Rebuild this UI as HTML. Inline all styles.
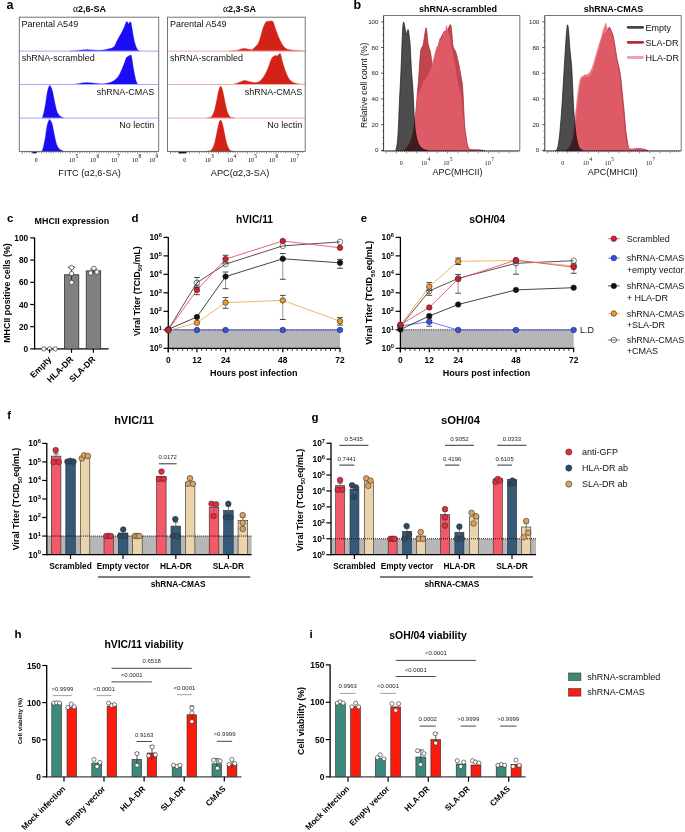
<!DOCTYPE html><html><head><meta charset="utf-8"><style>html,body{margin:0;padding:0;background:#fff}svg{display:block}</style></head><body>
<svg width="685" height="832" viewBox="0 0 685 832">
<rect x="0" y="0" width="685" height="832" fill="#fff"/>
<text x="6.6" y="9.2" font-size="12.5" font-weight="bold" text-anchor="start" fill="#000" font-family='"Liberation Sans", sans-serif'>a</text>
<rect x="32.5" y="151.6" width="4.2" height="1.7" fill="#111" stroke="none" stroke-width="1"/>
<rect x="178.6" y="151.6" width="7.8" height="1.8" fill="#111" stroke="none" stroke-width="1"/>
<path d="M70,51.1 L70,51.1 L70.82,51.05 L71.97,50.99 L73.31,50.91 L74.7,50.81 L76,50.7 L77.21,50.56 L78.42,50.38 L79.64,50.2 L80.83,50.03 L82,49.9 L83.13,49.8 L84.24,49.71 L85.32,49.65 L86.41,49.61 L87.5,49.6 L88.61,49.64 L89.72,49.71 L90.84,49.81 L91.93,49.92 L93,50 L94.05,50.07 L95.08,50.15 L96.1,50.22 L97.07,50.27 L98,50.3 L98.87,50.3 L99.68,50.28 L100.46,50.23 L101.23,50.17 L102,50.1 L102.75,50.02 L103.46,49.92 L104.17,49.81 L104.94,49.67 L105.8,49.5 L106.81,49.29 L107.95,49.06 L109.12,48.8 L110.24,48.51 L111.2,48.2 L112,47.9 L112.69,47.62 L113.3,47.29 L113.86,46.87 L114.4,46.3 L114.9,45.54 L115.33,44.64 L115.73,43.64 L116.14,42.6 L116.6,41.6 L117.11,40.62 L117.64,39.62 L118.2,38.61 L118.75,37.6 L119.3,36.6 L119.85,35.62 L120.4,34.64 L120.95,33.66 L121.49,32.68 L122,31.7 L122.49,30.7 L122.97,29.68 L123.44,28.67 L123.88,27.67 L124.3,26.7 L124.7,25.7 L125.08,24.67 L125.44,23.68 L125.78,22.83 L126.1,22.2 L126.4,21.82 L126.67,21.62 L126.92,21.58 L127.16,21.65 L127.4,21.8 L127.63,22.14 L127.85,22.69 L128.06,23.3 L128.28,23.79 L128.5,24 L128.73,23.83 L128.97,23.37 L129.21,22.81 L129.45,22.29 L129.7,22 L129.96,21.89 L130.22,21.84 L130.49,21.92 L130.75,22.19 L131,22.7 L131.23,23.51 L131.45,24.59 L131.66,25.83 L131.88,27.17 L132.1,28.5 L132.33,29.86 L132.57,31.32 L132.81,32.82 L133.05,34.3 L133.3,35.7 L133.55,37.03 L133.79,38.33 L134.04,39.59 L134.31,40.81 L134.6,42 L134.93,43.18 L135.28,44.34 L135.66,45.46 L136.03,46.49 L136.4,47.4 L136.76,48.17 L137.12,48.84 L137.48,49.41 L137.84,49.89 L138.2,50.3 L138.59,50.61 L139.01,50.81 L139.41,50.94 L139.76,51.02 L140,51.1 L140,51.1 Z" fill="#1a0cf5" stroke="#1a0cf5" stroke-width="0.3" stroke-linejoin="round"/>
<path d="M70,84.5 L70,84.5 L70.82,84.44 L71.97,84.36 L73.31,84.26 L74.7,84.14 L76,84 L77.21,83.82 L78.42,83.61 L79.64,83.38 L80.83,83.17 L82,83 L83.13,82.87 L84.24,82.75 L85.32,82.67 L86.41,82.61 L87.5,82.6 L88.61,82.64 L89.72,82.74 L90.84,82.86 L91.93,82.99 L93,83.1 L94.05,83.2 L95.08,83.31 L96.1,83.42 L97.07,83.52 L98,83.6 L98.87,83.67 L99.68,83.73 L100.46,83.77 L101.23,83.8 L102,83.8 L102.75,83.79 L103.46,83.77 L104.17,83.72 L104.94,83.64 L105.8,83.5 L106.81,83.3 L107.93,83.06 L109.09,82.77 L110.21,82.45 L111.2,82.1 L112.04,81.73 L112.77,81.34 L113.45,80.92 L114.11,80.44 L114.8,79.9 L115.53,79.3 L116.28,78.65 L117.02,77.94 L117.74,77.16 L118.4,76.3 L119,75.35 L119.54,74.32 L120.06,73.22 L120.57,72.07 L121.1,70.9 L121.65,69.68 L122.2,68.41 L122.75,67.1 L123.29,65.79 L123.8,64.5 L124.29,63.16 L124.77,61.76 L125.24,60.39 L125.68,59.17 L126.1,58.2 L126.49,57.54 L126.86,57.11 L127.2,56.84 L127.55,56.63 L127.9,56.4 L128.27,56.15 L128.64,55.95 L129.02,55.78 L129.37,55.63 L129.7,55.5 L130,55.33 L130.28,55.14 L130.53,54.98 L130.77,54.95 L131,55.1 L131.2,55.4 L131.36,55.8 L131.52,56.36 L131.69,57.14 L131.9,58.2 L132.15,59.67 L132.43,61.5 L132.72,63.51 L133.02,65.51 L133.3,67.3 L133.56,68.86 L133.8,70.32 L134.05,71.71 L134.31,73.09 L134.6,74.5 L134.93,76.01 L135.28,77.6 L135.66,79.14 L136.03,80.55 L136.4,81.7 L136.76,82.57 L137.12,83.23 L137.48,83.72 L137.84,84.1 L138.2,84.4 L138.59,84.59 L139.01,84.63 L139.41,84.59 L139.76,84.53 L140,84.5 L140,84.5 Z" fill="#1a0cf5" stroke="#1a0cf5" stroke-width="0.3" stroke-linejoin="round"/>
<path d="M42.1,118.1 L42.1,118.1 L42.27,117.64 L42.5,117.03 L42.77,116.25 L43.08,115.28 L43.4,114.1 L43.74,112.68 L44.11,111.05 L44.5,109.23 L44.9,107.24 L45.3,105.1 L45.69,102.65 L46.09,99.86 L46.5,97 L46.9,94.33 L47.3,92.1 L47.71,90.32 L48.14,88.82 L48.56,87.59 L48.95,86.62 L49.3,85.9 L49.58,85.45 L49.8,85.29 L50,85.37 L50.22,85.65 L50.5,86.1 L50.85,86.71 L51.24,87.51 L51.66,88.51 L52.09,89.7 L52.5,91.1 L52.89,92.78 L53.28,94.74 L53.67,96.86 L54.07,99.02 L54.5,101.1 L54.94,103.18 L55.4,105.35 L55.88,107.47 L56.38,109.43 L56.9,111.1 L57.45,112.44 L58.01,113.53 L58.6,114.43 L59.23,115.2 L59.9,115.9 L60.7,116.51 L61.62,117 L62.54,117.38 L63.34,117.67 L63.9,117.9 L63.9,118.1 Z" fill="#1a0cf5" stroke="#1a0cf5" stroke-width="0.3" stroke-linejoin="round"/>
<path d="M41.9,151.4 L41.9,151.4 L42.07,150.94 L42.3,150.33 L42.57,149.55 L42.88,148.58 L43.2,147.4 L43.54,145.98 L43.91,144.35 L44.3,142.53 L44.7,140.54 L45.1,138.4 L45.49,135.93 L45.89,133.12 L46.3,130.24 L46.7,127.58 L47.1,125.4 L47.51,123.74 L47.94,122.42 L48.36,121.39 L48.75,120.6 L49.1,120 L49.38,119.62 L49.6,119.48 L49.8,119.56 L50.02,119.81 L50.3,120.2 L50.65,120.69 L51.04,121.31 L51.46,122.11 L51.89,123.12 L52.3,124.4 L52.69,126.03 L53.08,127.98 L53.47,130.12 L53.87,132.31 L54.3,134.4 L54.74,136.48 L55.2,138.65 L55.68,140.77 L56.18,142.73 L56.7,144.4 L57.25,145.74 L57.81,146.83 L58.4,147.73 L59.03,148.5 L59.7,149.2 L60.5,149.81 L61.42,150.3 L62.34,150.68 L63.14,150.97 L63.7,151.2 L63.7,151.4 Z" fill="#1a0cf5" stroke="#1a0cf5" stroke-width="0.3" stroke-linejoin="round"/>
<line x1="19.3" y1="51.1" x2="158.7" y2="51.1" stroke="#a9a6fb" stroke-width="1"/>
<line x1="19.3" y1="84.5" x2="158.7" y2="84.5" stroke="#a9a6fb" stroke-width="1"/>
<line x1="19.3" y1="118.1" x2="158.7" y2="118.1" stroke="#a9a6fb" stroke-width="1"/>
<rect x="19.3" y="17.2" width="139.4" height="134.2" fill="none" stroke="#666" stroke-width="0.9"/>
<text x="89.6" y="11.7" font-size="9.0" font-weight="bold" text-anchor="middle" font-family='"Liberation Sans", sans-serif'><tspan font-family='"Liberation Serif", serif' font-weight="normal" font-size="9.6">α</tspan>2,6-SA</text>
<text x="21.6" y="26.6" font-size="9" text-anchor="start" fill="#111" font-family='"Liberation Sans", sans-serif'>Parental A549</text>
<text x="21.8" y="60.6" font-size="9" text-anchor="start" fill="#111" font-family='"Liberation Sans", sans-serif'>shRNA-scrambled</text>
<text x="154.2" y="94.7" font-size="9" text-anchor="end" fill="#111" font-family='"Liberation Sans", sans-serif'>shRNA-CMAS</text>
<text x="154.2" y="128.2" font-size="9" text-anchor="end" fill="#111" font-family='"Liberation Sans", sans-serif'>No lectin</text>
<text x="36.2" y="162" font-size="5.8" text-anchor="middle" fill="#000" font-family='"Liberation Serif", serif'>0</text>
<text x="73.6" y="161.6" font-size="6.0" text-anchor="middle" font-family='"Liberation Serif", serif' fill="#000">10<tspan font-size="5.4" dx="0.3" dy="-4.0">5</tspan></text>
<text x="94.6" y="161.6" font-size="6.0" text-anchor="middle" font-family='"Liberation Serif", serif' fill="#000">10<tspan font-size="5.4" dx="0.3" dy="-4.0">6</tspan></text>
<text x="115.4" y="161.6" font-size="6.0" text-anchor="middle" font-family='"Liberation Serif", serif' fill="#000">10<tspan font-size="5.4" dx="0.3" dy="-4.0">7</tspan></text>
<text x="136.6" y="161.6" font-size="6.0" text-anchor="middle" font-family='"Liberation Serif", serif' fill="#000">10<tspan font-size="5.4" dx="0.3" dy="-4.0">8</tspan></text>
<text x="153.8" y="161.6" font-size="6.0" text-anchor="middle" font-family='"Liberation Serif", serif' fill="#000">10<tspan font-size="5.4" dx="0.3" dy="-4.0">9</tspan></text>
<line x1="22.3" y1="151.4" x2="22.3" y2="153.8" stroke="#333" stroke-width="0.55"/>
<line x1="24.7" y1="151.4" x2="24.7" y2="152.9" stroke="#333" stroke-width="0.55"/>
<line x1="27.1" y1="151.4" x2="27.1" y2="152.9" stroke="#333" stroke-width="0.55"/>
<line x1="29.5" y1="151.4" x2="29.5" y2="152.9" stroke="#333" stroke-width="0.55"/>
<line x1="31.9" y1="151.4" x2="31.9" y2="153.8" stroke="#333" stroke-width="0.55"/>
<line x1="34.3" y1="151.4" x2="34.3" y2="152.9" stroke="#333" stroke-width="0.55"/>
<line x1="36.7" y1="151.4" x2="36.7" y2="152.9" stroke="#333" stroke-width="0.55"/>
<line x1="39.1" y1="151.4" x2="39.1" y2="152.9" stroke="#333" stroke-width="0.55"/>
<line x1="41.5" y1="151.4" x2="41.5" y2="153.8" stroke="#333" stroke-width="0.55"/>
<line x1="43.9" y1="151.4" x2="43.9" y2="152.9" stroke="#333" stroke-width="0.55"/>
<line x1="46.3" y1="151.4" x2="46.3" y2="152.9" stroke="#333" stroke-width="0.55"/>
<line x1="48.7" y1="151.4" x2="48.7" y2="152.9" stroke="#333" stroke-width="0.55"/>
<line x1="51.1" y1="151.4" x2="51.1" y2="153.8" stroke="#333" stroke-width="0.55"/>
<line x1="53.5" y1="151.4" x2="53.5" y2="152.9" stroke="#333" stroke-width="0.55"/>
<line x1="55.9" y1="151.4" x2="55.9" y2="152.9" stroke="#333" stroke-width="0.55"/>
<line x1="58.3" y1="151.4" x2="58.3" y2="152.9" stroke="#333" stroke-width="0.55"/>
<line x1="60.7" y1="151.4" x2="60.7" y2="153.8" stroke="#333" stroke-width="0.55"/>
<line x1="63.1" y1="151.4" x2="63.1" y2="152.9" stroke="#333" stroke-width="0.55"/>
<line x1="65.5" y1="151.4" x2="65.5" y2="152.9" stroke="#333" stroke-width="0.55"/>
<line x1="67.9" y1="151.4" x2="67.9" y2="152.9" stroke="#333" stroke-width="0.55"/>
<line x1="70.3" y1="151.4" x2="70.3" y2="153.8" stroke="#333" stroke-width="0.55"/>
<line x1="72.7" y1="151.4" x2="72.7" y2="152.9" stroke="#333" stroke-width="0.55"/>
<line x1="75.1" y1="151.4" x2="75.1" y2="152.9" stroke="#333" stroke-width="0.55"/>
<line x1="77.5" y1="151.4" x2="77.5" y2="152.9" stroke="#333" stroke-width="0.55"/>
<line x1="79.9" y1="151.4" x2="79.9" y2="153.8" stroke="#333" stroke-width="0.55"/>
<line x1="82.3" y1="151.4" x2="82.3" y2="152.9" stroke="#333" stroke-width="0.55"/>
<line x1="84.7" y1="151.4" x2="84.7" y2="152.9" stroke="#333" stroke-width="0.55"/>
<line x1="87.1" y1="151.4" x2="87.1" y2="152.9" stroke="#333" stroke-width="0.55"/>
<line x1="89.5" y1="151.4" x2="89.5" y2="153.8" stroke="#333" stroke-width="0.55"/>
<line x1="91.9" y1="151.4" x2="91.9" y2="152.9" stroke="#333" stroke-width="0.55"/>
<line x1="94.3" y1="151.4" x2="94.3" y2="152.9" stroke="#333" stroke-width="0.55"/>
<line x1="96.7" y1="151.4" x2="96.7" y2="152.9" stroke="#333" stroke-width="0.55"/>
<line x1="99.1" y1="151.4" x2="99.1" y2="153.8" stroke="#333" stroke-width="0.55"/>
<line x1="101.5" y1="151.4" x2="101.5" y2="152.9" stroke="#333" stroke-width="0.55"/>
<line x1="103.9" y1="151.4" x2="103.9" y2="152.9" stroke="#333" stroke-width="0.55"/>
<line x1="106.3" y1="151.4" x2="106.3" y2="152.9" stroke="#333" stroke-width="0.55"/>
<line x1="108.7" y1="151.4" x2="108.7" y2="153.8" stroke="#333" stroke-width="0.55"/>
<line x1="111.1" y1="151.4" x2="111.1" y2="152.9" stroke="#333" stroke-width="0.55"/>
<line x1="113.5" y1="151.4" x2="113.5" y2="152.9" stroke="#333" stroke-width="0.55"/>
<line x1="115.9" y1="151.4" x2="115.9" y2="152.9" stroke="#333" stroke-width="0.55"/>
<line x1="118.3" y1="151.4" x2="118.3" y2="153.8" stroke="#333" stroke-width="0.55"/>
<line x1="120.7" y1="151.4" x2="120.7" y2="152.9" stroke="#333" stroke-width="0.55"/>
<line x1="123.1" y1="151.4" x2="123.1" y2="152.9" stroke="#333" stroke-width="0.55"/>
<line x1="125.5" y1="151.4" x2="125.5" y2="152.9" stroke="#333" stroke-width="0.55"/>
<line x1="127.9" y1="151.4" x2="127.9" y2="153.8" stroke="#333" stroke-width="0.55"/>
<line x1="130.3" y1="151.4" x2="130.3" y2="152.9" stroke="#333" stroke-width="0.55"/>
<line x1="132.7" y1="151.4" x2="132.7" y2="152.9" stroke="#333" stroke-width="0.55"/>
<line x1="135.1" y1="151.4" x2="135.1" y2="152.9" stroke="#333" stroke-width="0.55"/>
<line x1="137.5" y1="151.4" x2="137.5" y2="153.8" stroke="#333" stroke-width="0.55"/>
<line x1="139.9" y1="151.4" x2="139.9" y2="152.9" stroke="#333" stroke-width="0.55"/>
<line x1="142.3" y1="151.4" x2="142.3" y2="152.9" stroke="#333" stroke-width="0.55"/>
<line x1="144.7" y1="151.4" x2="144.7" y2="152.9" stroke="#333" stroke-width="0.55"/>
<line x1="147.1" y1="151.4" x2="147.1" y2="153.8" stroke="#333" stroke-width="0.55"/>
<line x1="149.5" y1="151.4" x2="149.5" y2="152.9" stroke="#333" stroke-width="0.55"/>
<line x1="151.9" y1="151.4" x2="151.9" y2="152.9" stroke="#333" stroke-width="0.55"/>
<line x1="154.3" y1="151.4" x2="154.3" y2="152.9" stroke="#333" stroke-width="0.55"/>
<line x1="156.7" y1="151.4" x2="156.7" y2="153.8" stroke="#333" stroke-width="0.55"/>
<text x="89.6" y="176.4" font-size="9.2" text-anchor="middle" fill="#111" font-family='"Liberation Sans", sans-serif'>FITC (α2,6-SA)</text>
<path d="M229,51.1 L229,51.1 L229.92,51.04 L231.25,50.97 L232.77,50.87 L234.26,50.75 L235.5,50.6 L236.46,50.4 L237.27,50.16 L238.01,49.9 L238.73,49.64 L239.5,49.4 L240.33,49.16 L241.18,48.91 L242.04,48.68 L242.88,48.49 L243.7,48.4 L244.48,48.42 L245.22,48.52 L245.96,48.68 L246.71,48.85 L247.5,49 L248.38,49.16 L249.32,49.36 L250.26,49.54 L251.14,49.64 L251.9,49.6 L252.48,49.41 L252.91,49.1 L253.29,48.7 L253.7,48.22 L254.2,47.7 L254.84,47.14 L255.57,46.53 L256.33,45.84 L257.06,45.07 L257.7,44.2 L258.24,43.2 L258.73,42.07 L259.17,40.87 L259.59,39.64 L260,38.4 L260.39,37.14 L260.76,35.83 L261.11,34.51 L261.45,33.22 L261.8,32 L262.15,30.84 L262.5,29.7 L262.84,28.62 L263.17,27.61 L263.5,26.7 L263.81,25.89 L264.11,25.16 L264.41,24.52 L264.7,23.93 L265,23.4 L265.28,22.92 L265.53,22.5 L265.79,22.15 L266.1,21.85 L266.5,21.6 L267,21.42 L267.57,21.31 L268.2,21.25 L268.85,21.22 L269.5,21.2 L270.17,21.1 L270.88,20.94 L271.6,20.84 L272.28,20.95 L272.9,21.4 L273.44,22.31 L273.92,23.59 L274.37,25.06 L274.79,26.52 L275.2,27.8 L275.59,28.87 L275.96,29.84 L276.31,30.77 L276.65,31.68 L277,32.6 L277.32,33.49 L277.6,34.34 L277.9,35.2 L278.25,36.13 L278.7,37.2 L279.28,38.49 L279.97,39.97 L280.71,41.49 L281.47,42.95 L282.2,44.2 L282.89,45.25 L283.56,46.17 L284.24,46.99 L284.95,47.69 L285.7,48.3 L286.48,48.78 L287.28,49.13 L288.12,49.38 L289.02,49.59 L290,49.8 L291.05,49.99 L292.16,50.14 L293.35,50.27 L294.62,50.38 L296,50.5 L297.66,50.64 L299.59,50.78 L301.53,50.91 L303.22,51.02 L304.4,51.1 L304.4,51.1 Z" fill="#d32318" stroke="#d32318" stroke-width="0.3" stroke-linejoin="round"/>
<path d="M231,84.5 L231,84.5 L231.7,84.39 L232.69,84.24 L233.83,84.05 L234.98,83.84 L236,83.6 L236.85,83.32 L237.63,83.01 L238.38,82.67 L239.16,82.33 L240,82 L240.94,81.64 L241.93,81.23 L242.95,80.84 L243.96,80.54 L244.9,80.4 L245.75,80.47 L246.54,80.69 L247.32,81.01 L248.12,81.33 L249,81.6 L250.01,81.82 L251.12,82.03 L252.24,82.23 L253.3,82.39 L254.2,82.5 L254.91,82.56 L255.48,82.59 L255.98,82.58 L256.47,82.52 L257,82.4 L257.58,82.25 L258.16,82.06 L258.75,81.82 L259.36,81.47 L260,81 L260.68,80.36 L261.41,79.57 L262.15,78.69 L262.86,77.78 L263.5,76.9 L264.07,76.05 L264.59,75.19 L265.07,74.31 L265.54,73.42 L266,72.5 L266.47,71.56 L266.92,70.59 L267.36,69.6 L267.79,68.6 L268.2,67.6 L268.59,66.58 L268.95,65.54 L269.31,64.49 L269.65,63.47 L270,62.5 L270.35,61.54 L270.71,60.57 L271.06,59.66 L271.39,58.85 L271.7,58.2 L271.95,57.77 L272.16,57.52 L272.36,57.37 L272.6,57.22 L272.9,57 L273.3,56.66 L273.76,56.25 L274.26,55.84 L274.75,55.5 L275.2,55.3 L275.57,55.32 L275.9,55.52 L276.22,55.77 L276.58,55.94 L277,55.9 L277.54,55.54 L278.17,54.94 L278.82,54.29 L279.42,53.75 L279.9,53.5 L280.23,53.57 L280.46,53.84 L280.64,54.27 L280.8,54.84 L281,55.5 L281.21,56.24 L281.39,57.07 L281.59,58.04 L281.85,59.17 L282.2,60.5 L282.66,62.12 L283.21,64.01 L283.82,66.02 L284.45,68.03 L285.1,69.9 L285.75,71.67 L286.43,73.42 L287.13,75.1 L287.85,76.65 L288.6,78 L289.36,79.13 L290.14,80.09 L290.94,80.89 L291.79,81.59 L292.7,82.2 L293.66,82.7 L294.65,83.07 L295.7,83.35 L296.81,83.58 L298,83.8 L299.4,84.01 L301.01,84.18 L302.62,84.31 L304.02,84.42 L305,84.5 L305,84.5 Z" fill="#d32318" stroke="#d32318" stroke-width="0.3" stroke-linejoin="round"/>
<path d="M207.2,118.1 L207.2,117.7 L207.29,117.7 L207.42,117.69 L207.57,117.69 L207.73,117.68 L207.88,117.67 L208.01,117.67 L208.15,117.66 L208.28,117.66 L208.41,117.65 L208.55,117.64 L208.68,117.64 L208.82,117.63 L208.95,117.62 L209.09,117.62 L209.22,117.61 L209.36,117.61 L209.5,117.61 L209.63,117.61 L209.76,117.6 L209.9,117.57 L210.03,117.53 L210.17,117.48 L210.3,117.42 L210.44,117.35 L210.57,117.27 L210.71,117.19 L210.84,117.1 L210.98,117 L211.11,116.89 L211.25,116.77 L211.38,116.64 L211.52,116.51 L211.65,116.37 L211.79,116.21 L211.92,116.04 L212.06,115.86 L212.19,115.67 L212.33,115.47 L212.46,115.25 L212.6,115.01 L212.73,114.77 L212.87,114.5 L213,114.23 L213.14,113.93 L213.27,113.62 L213.41,113.29 L213.54,112.95 L213.68,112.59 L213.81,112.21 L213.95,111.81 L214.08,111.39 L214.22,110.95 L214.35,110.5 L214.49,110.03 L214.62,109.54 L214.76,109.03 L214.9,108.5 L215.03,107.96 L215.16,107.4 L215.3,106.82 L215.43,106.23 L215.57,105.62 L215.7,105 L215.84,104.37 L215.97,103.72 L216.11,103.07 L216.25,102.4 L216.38,101.72 L216.51,101.04 L216.65,100.35 L216.78,99.66 L216.92,98.97 L217.05,98.27 L217.19,97.58 L217.32,96.89 L217.46,96.21 L217.59,95.53 L217.73,94.86 L217.86,94.2 L218,93.56 L218.13,92.94 L218.27,92.32 L218.4,91.73 L218.54,91.16 L218.67,90.61 L218.81,90.1 L218.94,89.6 L219.08,89.13 L219.21,88.7 L219.35,88.3 L219.48,87.93 L219.62,87.59 L219.75,87.29 L219.89,87.03 L220.02,86.81 L220.16,86.63 L220.29,86.49 L220.43,86.38 L220.56,86.32 L220.7,86.3 L220.83,86.32 L220.97,86.38 L221.1,86.49 L221.24,86.63 L221.38,86.81 L221.51,87.03 L221.65,87.29 L221.78,87.59 L221.91,87.93 L222.05,88.3 L222.18,88.7 L222.32,89.13 L222.45,89.6 L222.59,90.1 L222.72,90.61 L222.86,91.16 L223,91.73 L223.13,92.32 L223.26,92.94 L223.4,93.56 L223.53,94.2 L223.67,94.86 L223.8,95.53 L223.94,96.21 L224.07,96.89 L224.21,97.58 L224.34,98.27 L224.48,98.97 L224.61,99.66 L224.75,100.35 L224.88,101.04 L225.02,101.72 L225.15,102.4 L225.29,103.07 L225.42,103.72 L225.56,104.37 L225.69,105 L225.83,105.62 L225.96,106.23 L226.1,106.82 L226.23,107.4 L226.37,107.96 L226.5,108.5 L226.64,109.03 L226.77,109.54 L226.91,110.03 L227.04,110.5 L227.18,110.95 L227.31,111.39 L227.45,111.81 L227.58,112.21 L227.72,112.59 L227.85,112.95 L227.99,113.29 L228.12,113.62 L228.26,113.93 L228.4,114.23 L228.53,114.5 L228.66,114.77 L228.8,115.01 L228.93,115.25 L229.07,115.47 L229.2,115.67 L229.34,115.86 L229.47,116.04 L229.61,116.21 L229.75,116.37 L229.88,116.51 L230.01,116.64 L230.15,116.77 L230.28,116.89 L230.42,117 L230.55,117.1 L230.69,117.19 L230.82,117.27 L230.96,117.35 L231.09,117.42 L231.23,117.48 L231.36,117.53 L231.5,117.57 L231.63,117.6 L231.77,117.61 L231.9,117.61 L232.04,117.61 L232.17,117.61 L232.31,117.62 L232.44,117.62 L232.58,117.63 L232.71,117.64 L232.85,117.64 L232.98,117.65 L233.12,117.66 L233.25,117.66 L233.39,117.67 L233.52,117.67 L233.67,117.68 L233.83,117.69 L233.98,117.69 L234.11,117.7 L234.2,117.7 L234.2,118.1 Z" fill="#d32318" stroke="#d32318" stroke-width="0.3" stroke-linejoin="round"/>
<path d="M207.1,151.4 L207.1,151.01 L207.19,151 L207.32,151 L207.47,150.99 L207.63,150.99 L207.78,150.98 L207.91,150.97 L208.05,150.97 L208.18,150.96 L208.32,150.96 L208.45,150.95 L208.58,150.94 L208.72,150.94 L208.85,150.93 L208.99,150.92 L209.12,150.92 L209.26,150.92 L209.4,150.92 L209.53,150.92 L209.66,150.91 L209.8,150.88 L209.93,150.84 L210.07,150.79 L210.2,150.73 L210.34,150.66 L210.47,150.58 L210.61,150.5 L210.75,150.41 L210.88,150.31 L211.01,150.21 L211.15,150.09 L211.28,149.97 L211.42,149.84 L211.56,149.69 L211.69,149.54 L211.82,149.37 L211.96,149.2 L212.09,149.01 L212.23,148.81 L212.36,148.59 L212.5,148.36 L212.63,148.12 L212.77,147.86 L212.9,147.59 L213.04,147.3 L213.17,146.99 L213.31,146.67 L213.44,146.33 L213.58,145.97 L213.71,145.6 L213.85,145.21 L213.98,144.79 L214.12,144.37 L214.25,143.92 L214.39,143.45 L214.53,142.97 L214.66,142.47 L214.8,141.95 L214.93,141.42 L215.07,140.87 L215.2,140.3 L215.33,139.72 L215.47,139.12 L215.6,138.51 L215.74,137.88 L215.88,137.25 L216.01,136.6 L216.15,135.94 L216.28,135.28 L216.41,134.6 L216.55,133.93 L216.68,133.25 L216.82,132.57 L216.95,131.88 L217.09,131.2 L217.22,130.52 L217.36,129.85 L217.5,129.19 L217.63,128.52 L217.76,127.88 L217.9,127.25 L218.03,126.63 L218.17,126.03 L218.31,125.44 L218.44,124.88 L218.57,124.35 L218.71,123.84 L218.84,123.35 L218.98,122.89 L219.11,122.46 L219.25,122.06 L219.38,121.7 L219.52,121.37 L219.65,121.08 L219.79,120.82 L219.92,120.6 L220.06,120.42 L220.19,120.28 L220.33,120.18 L220.46,120.12 L220.6,120.1 L220.73,120.12 L220.87,120.18 L221,120.28 L221.14,120.42 L221.28,120.6 L221.41,120.82 L221.55,121.08 L221.68,121.37 L221.82,121.7 L221.95,122.06 L222.08,122.46 L222.22,122.89 L222.35,123.35 L222.49,123.84 L222.62,124.35 L222.76,124.88 L222.9,125.44 L223.03,126.03 L223.16,126.63 L223.3,127.25 L223.43,127.88 L223.57,128.52 L223.7,129.19 L223.84,129.85 L223.97,130.52 L224.11,131.2 L224.25,131.88 L224.38,132.57 L224.51,133.25 L224.65,133.93 L224.78,134.6 L224.92,135.28 L225.06,135.94 L225.19,136.6 L225.32,137.25 L225.46,137.88 L225.59,138.51 L225.73,139.12 L225.86,139.72 L226,140.3 L226.13,140.87 L226.27,141.42 L226.4,141.95 L226.54,142.47 L226.67,142.97 L226.81,143.45 L226.94,143.92 L227.08,144.37 L227.21,144.79 L227.35,145.21 L227.48,145.6 L227.62,145.97 L227.75,146.33 L227.89,146.67 L228.03,146.99 L228.16,147.3 L228.3,147.59 L228.43,147.86 L228.57,148.12 L228.7,148.36 L228.83,148.59 L228.97,148.81 L229.1,149.01 L229.24,149.2 L229.38,149.37 L229.51,149.54 L229.65,149.69 L229.78,149.84 L229.91,149.97 L230.05,150.09 L230.18,150.21 L230.32,150.31 L230.45,150.41 L230.59,150.5 L230.72,150.58 L230.86,150.66 L231,150.73 L231.13,150.79 L231.26,150.84 L231.4,150.88 L231.53,150.91 L231.67,150.92 L231.81,150.92 L231.94,150.92 L232.07,150.92 L232.21,150.92 L232.34,150.93 L232.48,150.94 L232.61,150.94 L232.75,150.95 L232.88,150.96 L233.02,150.96 L233.15,150.97 L233.29,150.97 L233.42,150.98 L233.57,150.99 L233.73,150.99 L233.88,151 L234.01,151 L234.1,151.01 L234.1,151.4 Z" fill="#d32318" stroke="#d32318" stroke-width="0.3" stroke-linejoin="round"/>
<line x1="167.5" y1="51.1" x2="305.2" y2="51.1" stroke="#f4aaa6" stroke-width="1"/>
<line x1="167.5" y1="84.5" x2="305.2" y2="84.5" stroke="#f4aaa6" stroke-width="1"/>
<line x1="167.5" y1="118.1" x2="305.2" y2="118.1" stroke="#f4aaa6" stroke-width="1"/>
<rect x="167.5" y="17.2" width="137.7" height="134.2" fill="none" stroke="#666" stroke-width="0.9"/>
<text x="239.6" y="11.7" font-size="9.0" font-weight="bold" text-anchor="middle" font-family='"Liberation Sans", sans-serif'><tspan font-family='"Liberation Serif", serif' font-weight="normal" font-size="9.6">α</tspan>2,3-SA</text>
<text x="169.9" y="26.6" font-size="9" text-anchor="start" fill="#111" font-family='"Liberation Sans", sans-serif'>Parental A549</text>
<text x="169.9" y="60.6" font-size="9" text-anchor="start" fill="#111" font-family='"Liberation Sans", sans-serif'>shRNA-scrambled</text>
<text x="302.2" y="94.7" font-size="9" text-anchor="end" fill="#111" font-family='"Liberation Sans", sans-serif'>shRNA-CMAS</text>
<text x="302.2" y="128.2" font-size="9" text-anchor="end" fill="#111" font-family='"Liberation Sans", sans-serif'>No lectin</text>
<text x="184.8" y="162" font-size="5.8" text-anchor="middle" fill="#000" font-family='"Liberation Serif", serif'>0</text>
<text x="209.2" y="161.6" font-size="6.0" text-anchor="middle" font-family='"Liberation Serif", serif' fill="#000">10<tspan font-size="5.4" dx="0.3" dy="-4.0">3</tspan></text>
<text x="231.8" y="161.6" font-size="6.0" text-anchor="middle" font-family='"Liberation Serif", serif' fill="#000">10<tspan font-size="5.4" dx="0.3" dy="-4.0">4</tspan></text>
<text x="252.5" y="161.6" font-size="6.0" text-anchor="middle" font-family='"Liberation Serif", serif' fill="#000">10<tspan font-size="5.4" dx="0.3" dy="-4.0">5</tspan></text>
<text x="273.6" y="161.6" font-size="6.0" text-anchor="middle" font-family='"Liberation Serif", serif' fill="#000">10<tspan font-size="5.4" dx="0.3" dy="-4.0">6</tspan></text>
<text x="294.6" y="161.6" font-size="6.0" text-anchor="middle" font-family='"Liberation Serif", serif' fill="#000">10<tspan font-size="5.4" dx="0.3" dy="-4.0">7</tspan></text>
<line x1="170.5" y1="151.4" x2="170.5" y2="153.8" stroke="#333" stroke-width="0.55"/>
<line x1="172.9" y1="151.4" x2="172.9" y2="152.9" stroke="#333" stroke-width="0.55"/>
<line x1="175.3" y1="151.4" x2="175.3" y2="152.9" stroke="#333" stroke-width="0.55"/>
<line x1="177.7" y1="151.4" x2="177.7" y2="152.9" stroke="#333" stroke-width="0.55"/>
<line x1="180.1" y1="151.4" x2="180.1" y2="153.8" stroke="#333" stroke-width="0.55"/>
<line x1="182.5" y1="151.4" x2="182.5" y2="152.9" stroke="#333" stroke-width="0.55"/>
<line x1="184.9" y1="151.4" x2="184.9" y2="152.9" stroke="#333" stroke-width="0.55"/>
<line x1="187.3" y1="151.4" x2="187.3" y2="152.9" stroke="#333" stroke-width="0.55"/>
<line x1="189.7" y1="151.4" x2="189.7" y2="153.8" stroke="#333" stroke-width="0.55"/>
<line x1="192.1" y1="151.4" x2="192.1" y2="152.9" stroke="#333" stroke-width="0.55"/>
<line x1="194.5" y1="151.4" x2="194.5" y2="152.9" stroke="#333" stroke-width="0.55"/>
<line x1="196.9" y1="151.4" x2="196.9" y2="152.9" stroke="#333" stroke-width="0.55"/>
<line x1="199.3" y1="151.4" x2="199.3" y2="153.8" stroke="#333" stroke-width="0.55"/>
<line x1="201.7" y1="151.4" x2="201.7" y2="152.9" stroke="#333" stroke-width="0.55"/>
<line x1="204.1" y1="151.4" x2="204.1" y2="152.9" stroke="#333" stroke-width="0.55"/>
<line x1="206.5" y1="151.4" x2="206.5" y2="152.9" stroke="#333" stroke-width="0.55"/>
<line x1="208.9" y1="151.4" x2="208.9" y2="153.8" stroke="#333" stroke-width="0.55"/>
<line x1="211.3" y1="151.4" x2="211.3" y2="152.9" stroke="#333" stroke-width="0.55"/>
<line x1="213.7" y1="151.4" x2="213.7" y2="152.9" stroke="#333" stroke-width="0.55"/>
<line x1="216.1" y1="151.4" x2="216.1" y2="152.9" stroke="#333" stroke-width="0.55"/>
<line x1="218.5" y1="151.4" x2="218.5" y2="153.8" stroke="#333" stroke-width="0.55"/>
<line x1="220.9" y1="151.4" x2="220.9" y2="152.9" stroke="#333" stroke-width="0.55"/>
<line x1="223.3" y1="151.4" x2="223.3" y2="152.9" stroke="#333" stroke-width="0.55"/>
<line x1="225.7" y1="151.4" x2="225.7" y2="152.9" stroke="#333" stroke-width="0.55"/>
<line x1="228.1" y1="151.4" x2="228.1" y2="153.8" stroke="#333" stroke-width="0.55"/>
<line x1="230.5" y1="151.4" x2="230.5" y2="152.9" stroke="#333" stroke-width="0.55"/>
<line x1="232.9" y1="151.4" x2="232.9" y2="152.9" stroke="#333" stroke-width="0.55"/>
<line x1="235.3" y1="151.4" x2="235.3" y2="152.9" stroke="#333" stroke-width="0.55"/>
<line x1="237.7" y1="151.4" x2="237.7" y2="153.8" stroke="#333" stroke-width="0.55"/>
<line x1="240.1" y1="151.4" x2="240.1" y2="152.9" stroke="#333" stroke-width="0.55"/>
<line x1="242.5" y1="151.4" x2="242.5" y2="152.9" stroke="#333" stroke-width="0.55"/>
<line x1="244.9" y1="151.4" x2="244.9" y2="152.9" stroke="#333" stroke-width="0.55"/>
<line x1="247.3" y1="151.4" x2="247.3" y2="153.8" stroke="#333" stroke-width="0.55"/>
<line x1="249.7" y1="151.4" x2="249.7" y2="152.9" stroke="#333" stroke-width="0.55"/>
<line x1="252.1" y1="151.4" x2="252.1" y2="152.9" stroke="#333" stroke-width="0.55"/>
<line x1="254.5" y1="151.4" x2="254.5" y2="152.9" stroke="#333" stroke-width="0.55"/>
<line x1="256.9" y1="151.4" x2="256.9" y2="153.8" stroke="#333" stroke-width="0.55"/>
<line x1="259.3" y1="151.4" x2="259.3" y2="152.9" stroke="#333" stroke-width="0.55"/>
<line x1="261.7" y1="151.4" x2="261.7" y2="152.9" stroke="#333" stroke-width="0.55"/>
<line x1="264.1" y1="151.4" x2="264.1" y2="152.9" stroke="#333" stroke-width="0.55"/>
<line x1="266.5" y1="151.4" x2="266.5" y2="153.8" stroke="#333" stroke-width="0.55"/>
<line x1="268.9" y1="151.4" x2="268.9" y2="152.9" stroke="#333" stroke-width="0.55"/>
<line x1="271.3" y1="151.4" x2="271.3" y2="152.9" stroke="#333" stroke-width="0.55"/>
<line x1="273.7" y1="151.4" x2="273.7" y2="152.9" stroke="#333" stroke-width="0.55"/>
<line x1="276.1" y1="151.4" x2="276.1" y2="153.8" stroke="#333" stroke-width="0.55"/>
<line x1="278.5" y1="151.4" x2="278.5" y2="152.9" stroke="#333" stroke-width="0.55"/>
<line x1="280.9" y1="151.4" x2="280.9" y2="152.9" stroke="#333" stroke-width="0.55"/>
<line x1="283.3" y1="151.4" x2="283.3" y2="152.9" stroke="#333" stroke-width="0.55"/>
<line x1="285.7" y1="151.4" x2="285.7" y2="153.8" stroke="#333" stroke-width="0.55"/>
<line x1="288.1" y1="151.4" x2="288.1" y2="152.9" stroke="#333" stroke-width="0.55"/>
<line x1="290.5" y1="151.4" x2="290.5" y2="152.9" stroke="#333" stroke-width="0.55"/>
<line x1="292.9" y1="151.4" x2="292.9" y2="152.9" stroke="#333" stroke-width="0.55"/>
<line x1="295.3" y1="151.4" x2="295.3" y2="153.8" stroke="#333" stroke-width="0.55"/>
<line x1="297.7" y1="151.4" x2="297.7" y2="152.9" stroke="#333" stroke-width="0.55"/>
<line x1="300.1" y1="151.4" x2="300.1" y2="152.9" stroke="#333" stroke-width="0.55"/>
<line x1="302.5" y1="151.4" x2="302.5" y2="152.9" stroke="#333" stroke-width="0.55"/>
<text x="240" y="176.4" font-size="9.2" text-anchor="middle" fill="#111" font-family='"Liberation Sans", sans-serif'>APC(α2,3-SA)</text>
<text x="353.4" y="9.2" font-size="12.5" font-weight="bold" text-anchor="start" fill="#000" font-family='"Liberation Sans", sans-serif'>b</text>
<path d="M404.5,150.6 L404.5,150.6 L405.87,148.94 L407.8,146.55 L409.5,144 L410.7,141.42 L411.69,138.69 L412.5,136 L413.12,133.54 L413.58,131.13 L414,128.4 L414.44,125.01 L414.84,121.32 L415.2,118 L415.48,115.75 L415.72,113.87 L416,111 L416.37,106.22 L416.79,100.44 L417.2,95 L417.6,90.59 L418.01,86.52 L418.4,82 L418.76,76.57 L419.11,70.7 L419.5,65 L419.92,59.33 L420.37,53.84 L420.9,49.6 L421.57,47.6 L422.32,46.85 L423,45.5 L423.54,42.69 L424.02,39.28 L424.5,36 L425.02,32.64 L425.54,29.41 L426,27.7 L426.37,28.27 L426.68,30.34 L427,33 L427.31,36.16 L427.63,39.9 L428.1,43.5 L428.88,46.66 L429.82,49.67 L430.6,52.7 L431.07,55.88 L431.39,59.07 L431.7,62 L432.03,65.02 L432.35,67.79 L432.7,69 L433.05,67.89 L433.43,65.22 L434,62 L434.87,58.3 L435.94,54.04 L437,50 L437.96,46.44 L438.93,43.11 L440,40 L441.28,36.96 L442.67,34.15 L444,32 L445.22,31.01 L446.38,30.7 L447.5,30 L448.63,27.87 L449.71,25.36 L450.6,24.6 L451.2,26.85 L451.62,30.86 L452,35 L452.33,39.02 L452.63,43.17 L453.1,46.6 L453.84,48.52 L454.75,49.71 L455.7,51.7 L456.69,55.16 L457.71,59.41 L458.7,63.9 L459.64,68.68 L460.54,73.69 L461.3,78.2 L461.84,80.81 L462.24,82.93 L462.7,88 L463.3,99.01 L463.96,112.97 L464.6,124.4 L465.18,130.8 L465.74,134.67 L466.3,138 L466.82,141.51 L467.34,144.49 L468,146.8 L468.76,148.27 L469.66,149.08 L471,149.6 L473.04,149.84 L475.52,149.79 L478,149.8 L480.59,150.05 L483.19,150.37 L485,150.6 L485,150.6 Z" fill="#c0454f" stroke="#a52534" stroke-width="0.7" stroke-linejoin="round"/>
<path d="M404.5,150.6 L404.5,150.6 L405.87,149.07 L407.8,146.86 L409.5,144.5 L410.7,142.12 L411.69,139.59 L412.5,137 L413.12,134.44 L413.58,131.83 L414,129 L414.44,125.7 L414.84,122.19 L415.2,119 L415.48,116.63 L415.72,114.59 L416,112 L416.37,108.19 L416.78,103.81 L417.2,100 L417.62,97.15 L418.05,94.85 L418.5,93 L418.99,91.67 L419.49,90.78 L420,90 L420.48,89.43 L420.96,88.98 L421.5,88 L422.11,85.95 L422.78,83.38 L423.5,81.3 L424.31,80.27 L425.19,79.73 L426,79 L426.68,77.83 L427.31,76.47 L428,75 L428.85,73.52 L429.76,71.93 L430.6,70 L431.28,67.52 L431.89,64.7 L432.5,62 L433.15,59.64 L433.81,57.4 L434.5,55 L435.29,51.94 L436.12,48.73 L436.8,46.6 L437.19,46.75 L437.44,47.99 L437.8,48 L438.42,45.13 L439.16,41.03 L439.8,38.4 L440.2,39.16 L440.5,41.38 L441,42 L441.89,39 L442.97,34.4 L443.9,31.2 L444.55,31.23 L445.06,32.65 L445.5,33 L445.86,30.53 L446.15,26.97 L446.5,25.1 L446.98,26.54 L447.52,29.65 L448,32.3 L448.35,33.55 L448.65,34.33 L449,35.3 L449.46,36.52 L449.97,37.93 L450.5,40 L450.97,42.92 L451.45,46.49 L452.1,50.6 L453.06,55.38 L454.19,60.7 L455.2,66 L455.93,71.35 L456.54,76.69 L457.2,81.3 L457.99,84.64 L458.82,87.25 L459.6,90 L460.29,93.05 L460.91,96.25 L461.5,100 L462.04,104.65 L462.54,109.86 L463,115 L463.41,119.95 L463.78,124.83 L464.2,129.4 L464.7,133.66 L465.24,137.61 L465.8,141 L466.29,143.71 L466.8,145.85 L467.5,147.5 L468.4,148.6 L469.51,149.2 L471,149.6 L473.07,149.79 L475.54,149.76 L478,149.8 L480.59,150.05 L483.19,150.37 L485,150.6 L485,150.6 Z" fill="rgb(228,94,109)" stroke="rgba(228,94,109,0.9)" stroke-width="0.4" fill-opacity="0.84" stroke-linejoin="round"/>
<g style="mix-blend-mode:multiply">
<path d="M395.5,150.6 L395.5,150.3 L395.69,150.25 L395.97,150.05 L396.3,149 L396.71,146.79 L397.18,143.73 L397.6,140 L397.93,135.81 L398.21,130.96 L398.5,125 L398.83,117.04 L399.18,107.96 L399.5,100 L399.79,94.26 L400.05,89.63 L400.3,85 L400.54,80.19 L400.76,75.37 L401,70 L401.26,63.7 L401.53,56.85 L401.8,50 L402.06,42.89 L402.32,35.78 L402.6,30 L402.92,26 L403.26,23.33 L403.6,22 L403.93,22.41 L404.27,24.15 L404.6,26 L404.93,27.66 L405.27,29.42 L405.6,31 L405.94,32.47 L406.28,33.75 L406.6,34.3 L406.88,33.61 L407.14,32.2 L407.4,31 L407.66,30.14 L407.92,29.5 L408.2,29.7 L408.52,31.12 L408.86,33.38 L409.2,36 L409.53,38.52 L409.87,41.4 L410.2,45.5 L410.53,51.76 L410.87,59.24 L411.2,66 L411.55,71.48 L411.9,76.24 L412.2,80 L412.39,81.78 L412.51,82.56 L412.7,85 L413,90.58 L413.35,97.82 L413.7,105 L414.02,111.84 L414.34,118.61 L414.7,124.4 L415.09,128.69 L415.5,132 L416,135 L416.58,137.92 L417.23,140.53 L418,142.8 L418.88,144.68 L419.87,146.21 L421,147.5 L422.36,148.58 L423.86,149.41 L425.2,150 L426.34,150.27 L427.33,150.3 L428,150.3 L428,150.6 Z" fill="#4c4c4c" stroke="#1a1a1a" stroke-width="0.7" stroke-linejoin="round"/>
</g>
<line x1="383.6" y1="15.5" x2="519.8" y2="15.5" stroke="#555" stroke-width="0.8"/>
<line x1="519.8" y1="15.5" x2="519.8" y2="150.9" stroke="#555" stroke-width="0.8"/>
<line x1="383.6" y1="15.5" x2="383.6" y2="150.9" stroke="#222" stroke-width="0.9"/>
<line x1="381.6" y1="150.9" x2="519.8" y2="150.9" stroke="#222" stroke-width="0.9"/>
<line x1="381" y1="150.3" x2="383.6" y2="150.3" stroke="#222" stroke-width="0.7"/>
<text x="378.5" y="152.4" font-size="6.2" text-anchor="end" fill="#222" font-family='"Liberation Sans", sans-serif'>0</text>
<line x1="381" y1="124.6" x2="383.6" y2="124.6" stroke="#222" stroke-width="0.7"/>
<text x="378.5" y="126.7" font-size="6.2" text-anchor="end" fill="#222" font-family='"Liberation Sans", sans-serif'>20</text>
<line x1="381" y1="98.9" x2="383.6" y2="98.9" stroke="#222" stroke-width="0.7"/>
<text x="378.5" y="101" font-size="6.2" text-anchor="end" fill="#222" font-family='"Liberation Sans", sans-serif'>40</text>
<line x1="381" y1="73.2" x2="383.6" y2="73.2" stroke="#222" stroke-width="0.7"/>
<text x="378.5" y="75.3" font-size="6.2" text-anchor="end" fill="#222" font-family='"Liberation Sans", sans-serif'>60</text>
<line x1="381" y1="47.5" x2="383.6" y2="47.5" stroke="#222" stroke-width="0.7"/>
<text x="378.5" y="49.6" font-size="6.2" text-anchor="end" fill="#222" font-family='"Liberation Sans", sans-serif'>80</text>
<line x1="381" y1="21.8" x2="383.6" y2="21.8" stroke="#222" stroke-width="0.7"/>
<text x="378.5" y="23.9" font-size="6.2" text-anchor="end" fill="#222" font-family='"Liberation Sans", sans-serif'>100</text>
<line x1="382.1" y1="143.88" x2="383.6" y2="143.88" stroke="#333" stroke-width="0.5"/>
<line x1="382.1" y1="137.45" x2="383.6" y2="137.45" stroke="#333" stroke-width="0.5"/>
<line x1="382.1" y1="131.03" x2="383.6" y2="131.03" stroke="#333" stroke-width="0.5"/>
<line x1="382.1" y1="118.18" x2="383.6" y2="118.18" stroke="#333" stroke-width="0.5"/>
<line x1="382.1" y1="111.75" x2="383.6" y2="111.75" stroke="#333" stroke-width="0.5"/>
<line x1="382.1" y1="105.33" x2="383.6" y2="105.33" stroke="#333" stroke-width="0.5"/>
<line x1="382.1" y1="92.48" x2="383.6" y2="92.48" stroke="#333" stroke-width="0.5"/>
<line x1="382.1" y1="86.05" x2="383.6" y2="86.05" stroke="#333" stroke-width="0.5"/>
<line x1="382.1" y1="79.63" x2="383.6" y2="79.63" stroke="#333" stroke-width="0.5"/>
<line x1="382.1" y1="66.78" x2="383.6" y2="66.78" stroke="#333" stroke-width="0.5"/>
<line x1="382.1" y1="60.35" x2="383.6" y2="60.35" stroke="#333" stroke-width="0.5"/>
<line x1="382.1" y1="53.93" x2="383.6" y2="53.93" stroke="#333" stroke-width="0.5"/>
<line x1="382.1" y1="41.08" x2="383.6" y2="41.08" stroke="#333" stroke-width="0.5"/>
<line x1="382.1" y1="34.65" x2="383.6" y2="34.65" stroke="#333" stroke-width="0.5"/>
<line x1="382.1" y1="28.23" x2="383.6" y2="28.23" stroke="#333" stroke-width="0.5"/>
<line x1="386.1" y1="150.9" x2="386.1" y2="153.3" stroke="#222" stroke-width="0.5"/>
<line x1="388.15" y1="150.9" x2="388.15" y2="152.2" stroke="#222" stroke-width="0.5"/>
<line x1="390.2" y1="150.9" x2="390.2" y2="152.2" stroke="#222" stroke-width="0.5"/>
<line x1="392.25" y1="150.9" x2="392.25" y2="152.2" stroke="#222" stroke-width="0.5"/>
<line x1="394.3" y1="150.9" x2="394.3" y2="152.2" stroke="#222" stroke-width="0.5"/>
<line x1="396.35" y1="150.9" x2="396.35" y2="153.3" stroke="#222" stroke-width="0.5"/>
<line x1="398.4" y1="150.9" x2="398.4" y2="152.2" stroke="#222" stroke-width="0.5"/>
<line x1="400.45" y1="150.9" x2="400.45" y2="152.2" stroke="#222" stroke-width="0.5"/>
<line x1="402.5" y1="150.9" x2="402.5" y2="152.2" stroke="#222" stroke-width="0.5"/>
<line x1="404.55" y1="150.9" x2="404.55" y2="152.2" stroke="#222" stroke-width="0.5"/>
<line x1="406.6" y1="150.9" x2="406.6" y2="153.3" stroke="#222" stroke-width="0.5"/>
<line x1="408.65" y1="150.9" x2="408.65" y2="152.2" stroke="#222" stroke-width="0.5"/>
<line x1="410.7" y1="150.9" x2="410.7" y2="152.2" stroke="#222" stroke-width="0.5"/>
<line x1="412.75" y1="150.9" x2="412.75" y2="152.2" stroke="#222" stroke-width="0.5"/>
<line x1="414.8" y1="150.9" x2="414.8" y2="152.2" stroke="#222" stroke-width="0.5"/>
<line x1="416.85" y1="150.9" x2="416.85" y2="153.3" stroke="#222" stroke-width="0.5"/>
<line x1="418.9" y1="150.9" x2="418.9" y2="152.2" stroke="#222" stroke-width="0.5"/>
<line x1="420.95" y1="150.9" x2="420.95" y2="152.2" stroke="#222" stroke-width="0.5"/>
<line x1="423" y1="150.9" x2="423" y2="152.2" stroke="#222" stroke-width="0.5"/>
<line x1="425.05" y1="150.9" x2="425.05" y2="152.2" stroke="#222" stroke-width="0.5"/>
<line x1="427.1" y1="150.9" x2="427.1" y2="153.3" stroke="#222" stroke-width="0.5"/>
<line x1="429.15" y1="150.9" x2="429.15" y2="152.2" stroke="#222" stroke-width="0.5"/>
<line x1="431.2" y1="150.9" x2="431.2" y2="152.2" stroke="#222" stroke-width="0.5"/>
<line x1="433.25" y1="150.9" x2="433.25" y2="152.2" stroke="#222" stroke-width="0.5"/>
<line x1="435.3" y1="150.9" x2="435.3" y2="152.2" stroke="#222" stroke-width="0.5"/>
<line x1="437.35" y1="150.9" x2="437.35" y2="153.3" stroke="#222" stroke-width="0.5"/>
<line x1="439.4" y1="150.9" x2="439.4" y2="152.2" stroke="#222" stroke-width="0.5"/>
<line x1="441.45" y1="150.9" x2="441.45" y2="152.2" stroke="#222" stroke-width="0.5"/>
<line x1="443.5" y1="150.9" x2="443.5" y2="152.2" stroke="#222" stroke-width="0.5"/>
<line x1="445.55" y1="150.9" x2="445.55" y2="152.2" stroke="#222" stroke-width="0.5"/>
<line x1="447.6" y1="150.9" x2="447.6" y2="153.3" stroke="#222" stroke-width="0.5"/>
<line x1="449.65" y1="150.9" x2="449.65" y2="152.2" stroke="#222" stroke-width="0.5"/>
<line x1="451.7" y1="150.9" x2="451.7" y2="152.2" stroke="#222" stroke-width="0.5"/>
<line x1="453.75" y1="150.9" x2="453.75" y2="152.2" stroke="#222" stroke-width="0.5"/>
<line x1="455.8" y1="150.9" x2="455.8" y2="152.2" stroke="#222" stroke-width="0.5"/>
<line x1="457.85" y1="150.9" x2="457.85" y2="153.3" stroke="#222" stroke-width="0.5"/>
<line x1="459.9" y1="150.9" x2="459.9" y2="152.2" stroke="#222" stroke-width="0.5"/>
<line x1="461.95" y1="150.9" x2="461.95" y2="152.2" stroke="#222" stroke-width="0.5"/>
<line x1="464" y1="150.9" x2="464" y2="152.2" stroke="#222" stroke-width="0.5"/>
<line x1="466.05" y1="150.9" x2="466.05" y2="152.2" stroke="#222" stroke-width="0.5"/>
<line x1="468.1" y1="150.9" x2="468.1" y2="153.3" stroke="#222" stroke-width="0.5"/>
<line x1="470.15" y1="150.9" x2="470.15" y2="152.2" stroke="#222" stroke-width="0.5"/>
<line x1="472.2" y1="150.9" x2="472.2" y2="152.2" stroke="#222" stroke-width="0.5"/>
<line x1="474.25" y1="150.9" x2="474.25" y2="152.2" stroke="#222" stroke-width="0.5"/>
<line x1="476.3" y1="150.9" x2="476.3" y2="152.2" stroke="#222" stroke-width="0.5"/>
<line x1="478.35" y1="150.9" x2="478.35" y2="153.3" stroke="#222" stroke-width="0.5"/>
<line x1="480.4" y1="150.9" x2="480.4" y2="152.2" stroke="#222" stroke-width="0.5"/>
<line x1="482.45" y1="150.9" x2="482.45" y2="152.2" stroke="#222" stroke-width="0.5"/>
<line x1="484.5" y1="150.9" x2="484.5" y2="152.2" stroke="#222" stroke-width="0.5"/>
<line x1="486.55" y1="150.9" x2="486.55" y2="152.2" stroke="#222" stroke-width="0.5"/>
<line x1="488.6" y1="150.9" x2="488.6" y2="153.3" stroke="#222" stroke-width="0.5"/>
<line x1="490.65" y1="150.9" x2="490.65" y2="152.2" stroke="#222" stroke-width="0.5"/>
<line x1="492.7" y1="150.9" x2="492.7" y2="152.2" stroke="#222" stroke-width="0.5"/>
<line x1="494.75" y1="150.9" x2="494.75" y2="152.2" stroke="#222" stroke-width="0.5"/>
<line x1="496.8" y1="150.9" x2="496.8" y2="152.2" stroke="#222" stroke-width="0.5"/>
<line x1="498.85" y1="150.9" x2="498.85" y2="153.3" stroke="#222" stroke-width="0.5"/>
<line x1="500.9" y1="150.9" x2="500.9" y2="152.2" stroke="#222" stroke-width="0.5"/>
<line x1="502.95" y1="150.9" x2="502.95" y2="152.2" stroke="#222" stroke-width="0.5"/>
<line x1="505" y1="150.9" x2="505" y2="152.2" stroke="#222" stroke-width="0.5"/>
<line x1="507.05" y1="150.9" x2="507.05" y2="152.2" stroke="#222" stroke-width="0.5"/>
<line x1="509.1" y1="150.9" x2="509.1" y2="153.3" stroke="#222" stroke-width="0.5"/>
<line x1="511.15" y1="150.9" x2="511.15" y2="152.2" stroke="#222" stroke-width="0.5"/>
<line x1="513.2" y1="150.9" x2="513.2" y2="152.2" stroke="#222" stroke-width="0.5"/>
<line x1="515.25" y1="150.9" x2="515.25" y2="152.2" stroke="#222" stroke-width="0.5"/>
<line x1="517.3" y1="150.9" x2="517.3" y2="152.2" stroke="#222" stroke-width="0.5"/>
<text x="401.2" y="164.6" font-size="6" text-anchor="middle" fill="#222" font-family='"Liberation Serif", serif'>0</text>
<text x="425.5" y="164.6" font-size="6.4" text-anchor="middle" font-family='"Liberation Serif", serif' fill="#222">10<tspan font-size="5.6" dx="0.3" dy="-4.0">4</tspan></text>
<text x="447.9" y="164.6" font-size="6.4" text-anchor="middle" font-family='"Liberation Serif", serif' fill="#222">10<tspan font-size="5.6" dx="0.3" dy="-4.0">5</tspan></text>
<text x="489.2" y="164.6" font-size="6.4" text-anchor="middle" font-family='"Liberation Serif", serif' fill="#222">10<tspan font-size="5.6" dx="0.3" dy="-4.0">7</tspan></text>
<text x="457.9" y="11.8" font-size="9" font-weight="bold" text-anchor="middle" fill="#000" font-family='"Liberation Sans", sans-serif'>shRNA-scrambled</text>
<path d="M566,150.6 L566,150.5 L566.48,150.33 L567.19,150.06 L568,149.5 L568.94,148.61 L570,147.44 L571,146 L571.88,144.41 L572.71,142.54 L573.5,140 L574.29,136.48 L575.04,132.3 L575.7,128 L576.19,123.81 L576.57,119.52 L577,115 L577.54,110.04 L578.13,104.85 L578.7,100 L579.24,95.63 L579.78,91.59 L580.3,88 L580.8,84.83 L581.29,82.11 L581.8,80 L582.33,78.69 L582.87,77.98 L583.5,77.5 L584.26,77.13 L585.1,76.98 L585.9,77 L586.64,77.3 L587.36,77.76 L588,78 L588.54,77.85 L589.02,77.48 L589.5,77 L589.98,76.46 L590.46,75.81 L591,75 L591.65,73.98 L592.35,72.8 L593,71.5 L593.53,70.13 L594.01,68.65 L594.5,67 L595.01,65.15 L595.54,63.13 L596.1,61 L596.7,58.78 L597.33,56.44 L598,54 L598.73,51.33 L599.5,48.56 L600.2,46 L600.79,43.81 L601.3,41.85 L601.8,40 L602.27,38.15 L602.73,36.41 L603.2,35 L603.71,34.07 L604.25,33.48 L604.8,33 L605.37,32.67 L605.94,32.44 L606.5,32 L607.02,31.1 L607.51,29.98 L608,29 L608.47,28.17 L608.92,27.49 L609.4,27.3 L609.92,27.83 L610.47,28.84 L611,30 L611.53,31.26 L612.04,32.66 L612.5,34 L612.85,35.02 L613.15,35.98 L613.5,37.5 L613.96,39.91 L614.48,42.88 L615,46 L615.5,49.3 L616,52.76 L616.5,55.9 L617,58.47 L617.49,60.73 L618,63 L618.53,65.3 L619.08,67.6 L619.6,70.2 L620.07,73.02 L620.52,76.13 L621,80 L621.55,85.11 L622.14,90.98 L622.7,96.7 L623.21,101.83 L623.71,106.8 L624.2,112 L624.7,117.9 L625.2,124.03 L625.7,129.4 L626.2,133.54 L626.69,136.93 L627.2,140 L627.67,143.04 L628.14,145.78 L628.8,147.8 L629.64,148.82 L630.67,149.13 L632,149.2 L633.79,149.03 L635.9,148.62 L638,148.4 L640.07,148.56 L642.15,148.91 L644,149.3 L645.63,149.72 L647.04,150.18 L648,150.5 L648,150.6 Z" fill="#c0454f" stroke="#a52534" stroke-width="0.7" stroke-linejoin="round"/>
<path d="M565,150.6 L565,150.5 L565.63,150.37 L566.54,150.13 L567.5,149.5 L568.48,148.39 L569.52,146.89 L570.5,145 L571.41,142.74 L572.26,140.09 L573,137 L573.59,133.33 L574.06,129.22 L574.5,125 L574.92,120.7 L575.3,116.3 L575.7,112 L576.12,107.93 L576.55,103.96 L577,100 L577.49,95.85 L577.99,91.7 L578.5,88 L578.99,84.87 L579.48,82.19 L580,80 L580.58,78.39 L581.2,77.28 L581.8,76.5 L582.38,76.15 L582.95,76.13 L583.5,76 L584.01,75.5 L584.51,74.89 L585,74.5 L585.5,74.57 L586,74.87 L586.5,75 L586.98,74.81 L587.46,74.46 L588,74 L588.63,73.48 L589.31,72.85 L590,72 L590.67,70.89 L591.33,69.56 L592,68 L592.67,66.19 L593.33,64.15 L594,62 L594.67,59.74 L595.33,57.37 L596,55 L596.66,52.67 L597.32,50.33 L598,48 L598.75,45.56 L599.53,43.11 L600.2,41 L600.69,39.56 L601.07,38.44 L601.5,37 L602.05,34.74 L602.65,32.15 L603.2,30 L603.66,28.73 L604.07,27.91 L604.5,27 L604.97,25.47 L605.45,23.86 L605.9,23.2 L606.27,24.27 L606.61,26.29 L607,28 L607.47,28.95 L607.99,29.59 L608.5,30 L609,30 L609.5,29.78 L610,30 L610.5,30.96 L611,32.37 L611.5,34 L612,35.78 L612.5,37.78 L613,40 L613.5,42.44 L614,45.11 L614.5,48 L615,51.3 L615.5,54.81 L616,58 L616.5,60.52 L617,62.7 L617.5,65 L618,67.44 L618.5,70 L619,73 L619.5,76.59 L620,80.63 L620.5,85 L621,89.67 L621.5,94.67 L622,100 L622.5,105.89 L623,112.11 L623.5,118 L624,123.41 L624.49,128.48 L625,133 L625.51,136.89 L626.04,140.22 L626.6,143 L627.15,145.18 L627.74,146.8 L628.5,148 L629.38,148.74 L630.44,149.06 L632,149.2 L634.41,149.11 L637.31,148.84 L640,148.8 L642.37,149.27 L644.52,149.98 L646,150.5 L646,150.6 Z" fill="rgb(228,94,109)" stroke="rgba(228,94,109,0.9)" stroke-width="0.4" fill-opacity="0.84" stroke-linejoin="round"/>
<g style="mix-blend-mode:multiply">
<path d="M555.5,150.6 L555.5,150.5 L555.97,150.39 L556.64,150.11 L557.3,149 L557.88,146.78 L558.45,143.72 L559,140 L559.51,135.63 L560.01,130.59 L560.5,125 L561,118.89 L561.5,112.22 L562,105 L562.5,97.04 L563,88.52 L563.5,80 L564.01,71.48 L564.51,62.96 L565,55 L565.45,47.6 L565.88,40.76 L566.3,35 L566.71,30.23 L567.1,26.55 L567.5,24.8 L567.9,25.51 L568.29,28.16 L568.7,32 L569.11,37.27 L569.54,43.75 L570,50 L570.53,55.37 L571.1,60.52 L571.6,66 L571.98,72 L572.29,78.33 L572.6,85 L572.92,92.26 L573.24,99.85 L573.6,107 L574.03,113.48 L574.51,119.52 L575,125 L575.47,129.87 L575.94,134.19 L576.5,138 L577.18,141.37 L577.93,144.24 L578.7,146.5 L579.47,147.98 L580.25,148.85 L581,149.5 L581.76,150.02 L582.49,150.31 L583,150.5 L583,150.6 Z" fill="#4c4c4c" stroke="#1a1a1a" stroke-width="0.7" stroke-linejoin="round"/>
</g>
<line x1="544.8" y1="15.5" x2="681.2" y2="15.5" stroke="#555" stroke-width="0.8"/>
<line x1="681.2" y1="15.5" x2="681.2" y2="150.9" stroke="#555" stroke-width="0.8"/>
<line x1="544.8" y1="15.5" x2="544.8" y2="150.9" stroke="#222" stroke-width="0.9"/>
<line x1="542.8" y1="150.9" x2="681.2" y2="150.9" stroke="#222" stroke-width="0.9"/>
<line x1="542.2" y1="150.3" x2="544.8" y2="150.3" stroke="#222" stroke-width="0.7"/>
<text x="539.3" y="152.4" font-size="6.2" text-anchor="end" fill="#222" font-family='"Liberation Sans", sans-serif'>0</text>
<line x1="542.2" y1="124.6" x2="544.8" y2="124.6" stroke="#222" stroke-width="0.7"/>
<text x="539.3" y="126.7" font-size="6.2" text-anchor="end" fill="#222" font-family='"Liberation Sans", sans-serif'>20</text>
<line x1="542.2" y1="98.9" x2="544.8" y2="98.9" stroke="#222" stroke-width="0.7"/>
<text x="539.3" y="101" font-size="6.2" text-anchor="end" fill="#222" font-family='"Liberation Sans", sans-serif'>40</text>
<line x1="542.2" y1="73.2" x2="544.8" y2="73.2" stroke="#222" stroke-width="0.7"/>
<text x="539.3" y="75.3" font-size="6.2" text-anchor="end" fill="#222" font-family='"Liberation Sans", sans-serif'>60</text>
<line x1="542.2" y1="47.5" x2="544.8" y2="47.5" stroke="#222" stroke-width="0.7"/>
<text x="539.3" y="49.6" font-size="6.2" text-anchor="end" fill="#222" font-family='"Liberation Sans", sans-serif'>80</text>
<line x1="542.2" y1="21.8" x2="544.8" y2="21.8" stroke="#222" stroke-width="0.7"/>
<text x="539.3" y="23.9" font-size="6.2" text-anchor="end" fill="#222" font-family='"Liberation Sans", sans-serif'>100</text>
<line x1="543.3" y1="143.88" x2="544.8" y2="143.88" stroke="#333" stroke-width="0.5"/>
<line x1="543.3" y1="137.45" x2="544.8" y2="137.45" stroke="#333" stroke-width="0.5"/>
<line x1="543.3" y1="131.03" x2="544.8" y2="131.03" stroke="#333" stroke-width="0.5"/>
<line x1="543.3" y1="118.18" x2="544.8" y2="118.18" stroke="#333" stroke-width="0.5"/>
<line x1="543.3" y1="111.75" x2="544.8" y2="111.75" stroke="#333" stroke-width="0.5"/>
<line x1="543.3" y1="105.33" x2="544.8" y2="105.33" stroke="#333" stroke-width="0.5"/>
<line x1="543.3" y1="92.48" x2="544.8" y2="92.48" stroke="#333" stroke-width="0.5"/>
<line x1="543.3" y1="86.05" x2="544.8" y2="86.05" stroke="#333" stroke-width="0.5"/>
<line x1="543.3" y1="79.63" x2="544.8" y2="79.63" stroke="#333" stroke-width="0.5"/>
<line x1="543.3" y1="66.78" x2="544.8" y2="66.78" stroke="#333" stroke-width="0.5"/>
<line x1="543.3" y1="60.35" x2="544.8" y2="60.35" stroke="#333" stroke-width="0.5"/>
<line x1="543.3" y1="53.93" x2="544.8" y2="53.93" stroke="#333" stroke-width="0.5"/>
<line x1="543.3" y1="41.08" x2="544.8" y2="41.08" stroke="#333" stroke-width="0.5"/>
<line x1="543.3" y1="34.65" x2="544.8" y2="34.65" stroke="#333" stroke-width="0.5"/>
<line x1="543.3" y1="28.23" x2="544.8" y2="28.23" stroke="#333" stroke-width="0.5"/>
<line x1="547.3" y1="150.9" x2="547.3" y2="153.3" stroke="#222" stroke-width="0.5"/>
<line x1="549.35" y1="150.9" x2="549.35" y2="152.2" stroke="#222" stroke-width="0.5"/>
<line x1="551.4" y1="150.9" x2="551.4" y2="152.2" stroke="#222" stroke-width="0.5"/>
<line x1="553.45" y1="150.9" x2="553.45" y2="152.2" stroke="#222" stroke-width="0.5"/>
<line x1="555.5" y1="150.9" x2="555.5" y2="152.2" stroke="#222" stroke-width="0.5"/>
<line x1="557.55" y1="150.9" x2="557.55" y2="153.3" stroke="#222" stroke-width="0.5"/>
<line x1="559.6" y1="150.9" x2="559.6" y2="152.2" stroke="#222" stroke-width="0.5"/>
<line x1="561.65" y1="150.9" x2="561.65" y2="152.2" stroke="#222" stroke-width="0.5"/>
<line x1="563.7" y1="150.9" x2="563.7" y2="152.2" stroke="#222" stroke-width="0.5"/>
<line x1="565.75" y1="150.9" x2="565.75" y2="152.2" stroke="#222" stroke-width="0.5"/>
<line x1="567.8" y1="150.9" x2="567.8" y2="153.3" stroke="#222" stroke-width="0.5"/>
<line x1="569.85" y1="150.9" x2="569.85" y2="152.2" stroke="#222" stroke-width="0.5"/>
<line x1="571.9" y1="150.9" x2="571.9" y2="152.2" stroke="#222" stroke-width="0.5"/>
<line x1="573.95" y1="150.9" x2="573.95" y2="152.2" stroke="#222" stroke-width="0.5"/>
<line x1="576" y1="150.9" x2="576" y2="152.2" stroke="#222" stroke-width="0.5"/>
<line x1="578.05" y1="150.9" x2="578.05" y2="153.3" stroke="#222" stroke-width="0.5"/>
<line x1="580.1" y1="150.9" x2="580.1" y2="152.2" stroke="#222" stroke-width="0.5"/>
<line x1="582.15" y1="150.9" x2="582.15" y2="152.2" stroke="#222" stroke-width="0.5"/>
<line x1="584.2" y1="150.9" x2="584.2" y2="152.2" stroke="#222" stroke-width="0.5"/>
<line x1="586.25" y1="150.9" x2="586.25" y2="152.2" stroke="#222" stroke-width="0.5"/>
<line x1="588.3" y1="150.9" x2="588.3" y2="153.3" stroke="#222" stroke-width="0.5"/>
<line x1="590.35" y1="150.9" x2="590.35" y2="152.2" stroke="#222" stroke-width="0.5"/>
<line x1="592.4" y1="150.9" x2="592.4" y2="152.2" stroke="#222" stroke-width="0.5"/>
<line x1="594.45" y1="150.9" x2="594.45" y2="152.2" stroke="#222" stroke-width="0.5"/>
<line x1="596.5" y1="150.9" x2="596.5" y2="152.2" stroke="#222" stroke-width="0.5"/>
<line x1="598.55" y1="150.9" x2="598.55" y2="153.3" stroke="#222" stroke-width="0.5"/>
<line x1="600.6" y1="150.9" x2="600.6" y2="152.2" stroke="#222" stroke-width="0.5"/>
<line x1="602.65" y1="150.9" x2="602.65" y2="152.2" stroke="#222" stroke-width="0.5"/>
<line x1="604.7" y1="150.9" x2="604.7" y2="152.2" stroke="#222" stroke-width="0.5"/>
<line x1="606.75" y1="150.9" x2="606.75" y2="152.2" stroke="#222" stroke-width="0.5"/>
<line x1="608.8" y1="150.9" x2="608.8" y2="153.3" stroke="#222" stroke-width="0.5"/>
<line x1="610.85" y1="150.9" x2="610.85" y2="152.2" stroke="#222" stroke-width="0.5"/>
<line x1="612.9" y1="150.9" x2="612.9" y2="152.2" stroke="#222" stroke-width="0.5"/>
<line x1="614.95" y1="150.9" x2="614.95" y2="152.2" stroke="#222" stroke-width="0.5"/>
<line x1="617" y1="150.9" x2="617" y2="152.2" stroke="#222" stroke-width="0.5"/>
<line x1="619.05" y1="150.9" x2="619.05" y2="153.3" stroke="#222" stroke-width="0.5"/>
<line x1="621.1" y1="150.9" x2="621.1" y2="152.2" stroke="#222" stroke-width="0.5"/>
<line x1="623.15" y1="150.9" x2="623.15" y2="152.2" stroke="#222" stroke-width="0.5"/>
<line x1="625.2" y1="150.9" x2="625.2" y2="152.2" stroke="#222" stroke-width="0.5"/>
<line x1="627.25" y1="150.9" x2="627.25" y2="152.2" stroke="#222" stroke-width="0.5"/>
<line x1="629.3" y1="150.9" x2="629.3" y2="153.3" stroke="#222" stroke-width="0.5"/>
<line x1="631.35" y1="150.9" x2="631.35" y2="152.2" stroke="#222" stroke-width="0.5"/>
<line x1="633.4" y1="150.9" x2="633.4" y2="152.2" stroke="#222" stroke-width="0.5"/>
<line x1="635.45" y1="150.9" x2="635.45" y2="152.2" stroke="#222" stroke-width="0.5"/>
<line x1="637.5" y1="150.9" x2="637.5" y2="152.2" stroke="#222" stroke-width="0.5"/>
<line x1="639.55" y1="150.9" x2="639.55" y2="153.3" stroke="#222" stroke-width="0.5"/>
<line x1="641.6" y1="150.9" x2="641.6" y2="152.2" stroke="#222" stroke-width="0.5"/>
<line x1="643.65" y1="150.9" x2="643.65" y2="152.2" stroke="#222" stroke-width="0.5"/>
<line x1="645.7" y1="150.9" x2="645.7" y2="152.2" stroke="#222" stroke-width="0.5"/>
<line x1="647.75" y1="150.9" x2="647.75" y2="152.2" stroke="#222" stroke-width="0.5"/>
<line x1="649.8" y1="150.9" x2="649.8" y2="153.3" stroke="#222" stroke-width="0.5"/>
<line x1="651.85" y1="150.9" x2="651.85" y2="152.2" stroke="#222" stroke-width="0.5"/>
<line x1="653.9" y1="150.9" x2="653.9" y2="152.2" stroke="#222" stroke-width="0.5"/>
<line x1="655.95" y1="150.9" x2="655.95" y2="152.2" stroke="#222" stroke-width="0.5"/>
<line x1="658" y1="150.9" x2="658" y2="152.2" stroke="#222" stroke-width="0.5"/>
<line x1="660.05" y1="150.9" x2="660.05" y2="153.3" stroke="#222" stroke-width="0.5"/>
<line x1="662.1" y1="150.9" x2="662.1" y2="152.2" stroke="#222" stroke-width="0.5"/>
<line x1="664.15" y1="150.9" x2="664.15" y2="152.2" stroke="#222" stroke-width="0.5"/>
<line x1="666.2" y1="150.9" x2="666.2" y2="152.2" stroke="#222" stroke-width="0.5"/>
<line x1="668.25" y1="150.9" x2="668.25" y2="152.2" stroke="#222" stroke-width="0.5"/>
<line x1="670.3" y1="150.9" x2="670.3" y2="153.3" stroke="#222" stroke-width="0.5"/>
<line x1="672.35" y1="150.9" x2="672.35" y2="152.2" stroke="#222" stroke-width="0.5"/>
<line x1="674.4" y1="150.9" x2="674.4" y2="152.2" stroke="#222" stroke-width="0.5"/>
<line x1="676.45" y1="150.9" x2="676.45" y2="152.2" stroke="#222" stroke-width="0.5"/>
<line x1="678.5" y1="150.9" x2="678.5" y2="152.2" stroke="#222" stroke-width="0.5"/>
<text x="562.8" y="164.6" font-size="6" text-anchor="middle" fill="#222" font-family='"Liberation Serif", serif'>0</text>
<text x="587.2" y="164.6" font-size="6.4" text-anchor="middle" font-family='"Liberation Serif", serif' fill="#222">10<tspan font-size="5.6" dx="0.3" dy="-4.0">4</tspan></text>
<text x="609.3" y="164.6" font-size="6.4" text-anchor="middle" font-family='"Liberation Serif", serif' fill="#222">10<tspan font-size="5.6" dx="0.3" dy="-4.0">5</tspan></text>
<text x="650.4" y="164.6" font-size="6.4" text-anchor="middle" font-family='"Liberation Serif", serif' fill="#222">10<tspan font-size="5.6" dx="0.3" dy="-4.0">7</tspan></text>
<text x="613.6" y="11.8" font-size="9" font-weight="bold" text-anchor="middle" fill="#000" font-family='"Liberation Sans", sans-serif'>shRNA-CMAS</text>
<text x="367.2" y="85.3" font-size="8.6" text-anchor="middle" fill="#111" font-family='"Liberation Sans", sans-serif' transform="rotate(-90 367.2 85.3)">Relative cell count (%)</text>
<text x="457.6" y="175.1" font-size="9" text-anchor="middle" fill="#111" font-family='"Liberation Sans", sans-serif'>APC(MHCII)</text>
<text x="612.8" y="175.1" font-size="9" text-anchor="middle" fill="#111" font-family='"Liberation Sans", sans-serif'>APC(MHCII)</text>
<line x1="628.2" y1="27.3" x2="642.6" y2="27.3" stroke="#454545" stroke-width="2.8" stroke-linecap="round"/>
<text x="645.6" y="30.6" font-size="9" text-anchor="start" fill="#111" font-family='"Liberation Sans", sans-serif'>Empty</text>
<line x1="628.2" y1="42.4" x2="642.6" y2="42.4" stroke="#b8283a" stroke-width="2.8" stroke-linecap="round"/>
<text x="645.6" y="45.7" font-size="9" text-anchor="start" fill="#111" font-family='"Liberation Sans", sans-serif'>SLA-DR</text>
<line x1="628.2" y1="57.5" x2="642.6" y2="57.5" stroke="#f0a3ae" stroke-width="2.8" stroke-linecap="round"/>
<text x="645.6" y="60.8" font-size="9" text-anchor="start" fill="#111" font-family='"Liberation Sans", sans-serif'>HLA-DR</text>
<text x="7" y="222.2" font-size="11.5" font-weight="bold" text-anchor="start" fill="#000" font-family='"Liberation Sans", sans-serif'>c</text>
<text x="34.6" y="223.8" font-size="8.9" font-weight="bold" text-anchor="start" fill="#000" font-family='"Liberation Sans", sans-serif'>MHCII expression</text>
<line x1="34.6" y1="237.5" x2="34.6" y2="349.3" stroke="#000" stroke-width="1.3"/>
<line x1="34" y1="348.9" x2="108.6" y2="348.9" stroke="#000" stroke-width="1.3"/>
<line x1="30.2" y1="348.9" x2="34.6" y2="348.9" stroke="#000" stroke-width="1.2"/>
<text x="28.2" y="351.9" font-size="8.3" font-weight="bold" text-anchor="end" fill="#000" font-family='"Liberation Sans", sans-serif'>0</text>
<line x1="30.2" y1="326.7" x2="34.6" y2="326.7" stroke="#000" stroke-width="1.2"/>
<text x="28.2" y="329.7" font-size="8.3" font-weight="bold" text-anchor="end" fill="#000" font-family='"Liberation Sans", sans-serif'>20</text>
<line x1="30.2" y1="304.5" x2="34.6" y2="304.5" stroke="#000" stroke-width="1.2"/>
<text x="28.2" y="307.5" font-size="8.3" font-weight="bold" text-anchor="end" fill="#000" font-family='"Liberation Sans", sans-serif'>40</text>
<line x1="30.2" y1="282.3" x2="34.6" y2="282.3" stroke="#000" stroke-width="1.2"/>
<text x="28.2" y="285.3" font-size="8.3" font-weight="bold" text-anchor="end" fill="#000" font-family='"Liberation Sans", sans-serif'>60</text>
<line x1="30.2" y1="260.1" x2="34.6" y2="260.1" stroke="#000" stroke-width="1.2"/>
<text x="28.2" y="263.1" font-size="8.3" font-weight="bold" text-anchor="end" fill="#000" font-family='"Liberation Sans", sans-serif'>80</text>
<line x1="30.2" y1="237.9" x2="34.6" y2="237.9" stroke="#000" stroke-width="1.2"/>
<text x="28.2" y="240.9" font-size="8.3" font-weight="bold" text-anchor="end" fill="#000" font-family='"Liberation Sans", sans-serif'>100</text>
<text x="10.4" y="293" font-size="8.9" font-weight="bold" text-anchor="middle" fill="#000" font-family='"Liberation Sans", sans-serif' transform="rotate(-90 10.4 293)">MHCII positive cells (%)</text>
<rect x="64.4" y="274.75" width="14.4" height="74.15" fill="#808080" stroke="#333" stroke-width="0.8"/>
<rect x="86.2" y="270.87" width="14.5" height="78.03" fill="#808080" stroke="#333" stroke-width="0.8"/>
<line x1="71.6" y1="267.2" x2="71.6" y2="282.4" stroke="#222" stroke-width="0.8"/>
<line x1="67.8" y1="267.2" x2="75.4" y2="267.2" stroke="#222" stroke-width="0.8"/>
<line x1="93.5" y1="269" x2="93.5" y2="273.2" stroke="#222" stroke-width="0.8"/>
<line x1="90" y1="269" x2="97" y2="269" stroke="#222" stroke-width="0.8"/>
<circle cx="71.6" cy="267.6" r="2.2" fill="#fff" stroke="#333" stroke-width="0.7"/>
<circle cx="71.6" cy="273.6" r="2.2" fill="#fff" stroke="#333" stroke-width="0.7"/>
<circle cx="71.6" cy="282.4" r="2.2" fill="#fff" stroke="#333" stroke-width="0.7"/>
<circle cx="94" cy="268.3" r="2.2" fill="#fff" stroke="#333" stroke-width="0.7"/>
<circle cx="90.6" cy="273" r="2.2" fill="#fff" stroke="#333" stroke-width="0.7"/>
<circle cx="96.9" cy="272" r="2.2" fill="#fff" stroke="#333" stroke-width="0.7"/>
<circle cx="43.8" cy="348.9" r="2.2" fill="#fff" stroke="#333" stroke-width="0.7"/>
<circle cx="49.6" cy="348.9" r="2.2" fill="#fff" stroke="#333" stroke-width="0.7"/>
<circle cx="55.2" cy="348.9" r="2.2" fill="#fff" stroke="#333" stroke-width="0.7"/>
<line x1="49.6" y1="348.9" x2="49.6" y2="352.8" stroke="#000" stroke-width="1.2"/>
<text x="52" y="359.9" font-size="8.6" font-weight="bold" text-anchor="end" fill="#000" font-family='"Liberation Sans", sans-serif' transform="rotate(-45 52 359.9)">Empty</text>
<line x1="71.5" y1="348.9" x2="71.5" y2="352.8" stroke="#000" stroke-width="1.2"/>
<text x="73.9" y="359.9" font-size="8.6" font-weight="bold" text-anchor="end" fill="#000" font-family='"Liberation Sans", sans-serif' transform="rotate(-45 73.9 359.9)">HLA-DR</text>
<line x1="93.4" y1="348.9" x2="93.4" y2="352.8" stroke="#000" stroke-width="1.2"/>
<text x="95.8" y="359.9" font-size="8.6" font-weight="bold" text-anchor="end" fill="#000" font-family='"Liberation Sans", sans-serif' transform="rotate(-45 95.8 359.9)">SLA-DR</text>
<text x="131.6" y="222" font-size="11.5" font-weight="bold" text-anchor="start" fill="#000" font-family='"Liberation Sans", sans-serif'>d</text>
<rect x="168.3" y="329.82" width="171.72" height="18.48" fill="#b6b6b6" stroke="none" stroke-width="1"/>
<line x1="168.3" y1="329.82" x2="340.02" y2="329.82" stroke="#222" stroke-width="1.1" stroke-dasharray="0.9 0.9"/>
<line x1="168.3" y1="236.9" x2="168.3" y2="352.3" stroke="#000" stroke-width="1.3"/>
<line x1="167.7" y1="348.3" x2="340.62" y2="348.3" stroke="#000" stroke-width="1.3"/>
<line x1="163.5" y1="348.3" x2="168.3" y2="348.3" stroke="#000" stroke-width="1.2"/>
<text x="161.9" y="351.3" font-size="8.4" font-weight="bold" text-anchor="end" font-family='"Liberation Sans", sans-serif'>10<tspan font-size="5.71" dy="-3.19">0</tspan></text>
<line x1="163.5" y1="329.82" x2="168.3" y2="329.82" stroke="#000" stroke-width="1.2"/>
<text x="161.9" y="332.82" font-size="8.4" font-weight="bold" text-anchor="end" font-family='"Liberation Sans", sans-serif'>10<tspan font-size="5.71" dy="-3.19">1</tspan></text>
<line x1="163.5" y1="311.33" x2="168.3" y2="311.33" stroke="#000" stroke-width="1.2"/>
<text x="161.9" y="314.33" font-size="8.4" font-weight="bold" text-anchor="end" font-family='"Liberation Sans", sans-serif'>10<tspan font-size="5.71" dy="-3.19">2</tspan></text>
<line x1="163.5" y1="292.85" x2="168.3" y2="292.85" stroke="#000" stroke-width="1.2"/>
<text x="161.9" y="295.85" font-size="8.4" font-weight="bold" text-anchor="end" font-family='"Liberation Sans", sans-serif'>10<tspan font-size="5.71" dy="-3.19">3</tspan></text>
<line x1="163.5" y1="274.37" x2="168.3" y2="274.37" stroke="#000" stroke-width="1.2"/>
<text x="161.9" y="277.37" font-size="8.4" font-weight="bold" text-anchor="end" font-family='"Liberation Sans", sans-serif'>10<tspan font-size="5.71" dy="-3.19">4</tspan></text>
<line x1="163.5" y1="255.88" x2="168.3" y2="255.88" stroke="#000" stroke-width="1.2"/>
<text x="161.9" y="258.88" font-size="8.4" font-weight="bold" text-anchor="end" font-family='"Liberation Sans", sans-serif'>10<tspan font-size="5.71" dy="-3.19">5</tspan></text>
<line x1="163.5" y1="237.4" x2="168.3" y2="237.4" stroke="#000" stroke-width="1.2"/>
<text x="161.9" y="240.4" font-size="8.4" font-weight="bold" text-anchor="end" font-family='"Liberation Sans", sans-serif'>10<tspan font-size="5.71" dy="-3.19">6</tspan></text>
<line x1="168.3" y1="348.3" x2="168.3" y2="352.3" stroke="#000" stroke-width="1.2"/>
<text x="168.3" y="362.6" font-size="8.4" font-weight="bold" text-anchor="middle" fill="#000" font-family='"Liberation Sans", sans-serif'>0</text>
<line x1="173.07" y1="348.3" x2="173.07" y2="350.7" stroke="#000" stroke-width="0.9"/>
<line x1="177.84" y1="348.3" x2="177.84" y2="350.7" stroke="#000" stroke-width="0.9"/>
<line x1="182.61" y1="348.3" x2="182.61" y2="350.7" stroke="#000" stroke-width="0.9"/>
<line x1="187.38" y1="348.3" x2="187.38" y2="350.7" stroke="#000" stroke-width="0.9"/>
<line x1="192.15" y1="348.3" x2="192.15" y2="350.7" stroke="#000" stroke-width="0.9"/>
<line x1="196.92" y1="348.3" x2="196.92" y2="352.3" stroke="#000" stroke-width="1.2"/>
<text x="196.92" y="362.6" font-size="8.4" font-weight="bold" text-anchor="middle" fill="#000" font-family='"Liberation Sans", sans-serif'>12</text>
<line x1="201.69" y1="348.3" x2="201.69" y2="350.7" stroke="#000" stroke-width="0.9"/>
<line x1="206.46" y1="348.3" x2="206.46" y2="350.7" stroke="#000" stroke-width="0.9"/>
<line x1="211.23" y1="348.3" x2="211.23" y2="350.7" stroke="#000" stroke-width="0.9"/>
<line x1="216" y1="348.3" x2="216" y2="350.7" stroke="#000" stroke-width="0.9"/>
<line x1="220.77" y1="348.3" x2="220.77" y2="350.7" stroke="#000" stroke-width="0.9"/>
<line x1="225.54" y1="348.3" x2="225.54" y2="352.3" stroke="#000" stroke-width="1.2"/>
<text x="225.54" y="362.6" font-size="8.4" font-weight="bold" text-anchor="middle" fill="#000" font-family='"Liberation Sans", sans-serif'>24</text>
<line x1="230.31" y1="348.3" x2="230.31" y2="350.7" stroke="#000" stroke-width="0.9"/>
<line x1="235.08" y1="348.3" x2="235.08" y2="350.7" stroke="#000" stroke-width="0.9"/>
<line x1="239.85" y1="348.3" x2="239.85" y2="350.7" stroke="#000" stroke-width="0.9"/>
<line x1="244.62" y1="348.3" x2="244.62" y2="350.7" stroke="#000" stroke-width="0.9"/>
<line x1="249.39" y1="348.3" x2="249.39" y2="350.7" stroke="#000" stroke-width="0.9"/>
<line x1="254.16" y1="348.3" x2="254.16" y2="350.7" stroke="#000" stroke-width="0.9"/>
<line x1="258.93" y1="348.3" x2="258.93" y2="350.7" stroke="#000" stroke-width="0.9"/>
<line x1="263.7" y1="348.3" x2="263.7" y2="350.7" stroke="#000" stroke-width="0.9"/>
<line x1="268.47" y1="348.3" x2="268.47" y2="350.7" stroke="#000" stroke-width="0.9"/>
<line x1="273.24" y1="348.3" x2="273.24" y2="350.7" stroke="#000" stroke-width="0.9"/>
<line x1="278.01" y1="348.3" x2="278.01" y2="350.7" stroke="#000" stroke-width="0.9"/>
<line x1="282.78" y1="348.3" x2="282.78" y2="352.3" stroke="#000" stroke-width="1.2"/>
<text x="282.78" y="362.6" font-size="8.4" font-weight="bold" text-anchor="middle" fill="#000" font-family='"Liberation Sans", sans-serif'>48</text>
<line x1="287.55" y1="348.3" x2="287.55" y2="350.7" stroke="#000" stroke-width="0.9"/>
<line x1="292.32" y1="348.3" x2="292.32" y2="350.7" stroke="#000" stroke-width="0.9"/>
<line x1="297.09" y1="348.3" x2="297.09" y2="350.7" stroke="#000" stroke-width="0.9"/>
<line x1="301.86" y1="348.3" x2="301.86" y2="350.7" stroke="#000" stroke-width="0.9"/>
<line x1="306.63" y1="348.3" x2="306.63" y2="350.7" stroke="#000" stroke-width="0.9"/>
<line x1="311.4" y1="348.3" x2="311.4" y2="350.7" stroke="#000" stroke-width="0.9"/>
<line x1="316.17" y1="348.3" x2="316.17" y2="350.7" stroke="#000" stroke-width="0.9"/>
<line x1="320.94" y1="348.3" x2="320.94" y2="350.7" stroke="#000" stroke-width="0.9"/>
<line x1="325.71" y1="348.3" x2="325.71" y2="350.7" stroke="#000" stroke-width="0.9"/>
<line x1="330.48" y1="348.3" x2="330.48" y2="350.7" stroke="#000" stroke-width="0.9"/>
<line x1="335.25" y1="348.3" x2="335.25" y2="350.7" stroke="#000" stroke-width="0.9"/>
<line x1="340.02" y1="348.3" x2="340.02" y2="352.3" stroke="#000" stroke-width="1.2"/>
<text x="340.02" y="362.6" font-size="8.4" font-weight="bold" text-anchor="middle" fill="#000" font-family='"Liberation Sans", sans-serif'>72</text>
<text x="253.66" y="375.8" font-size="9" font-weight="bold" text-anchor="middle" fill="#000" font-family='"Liberation Sans", sans-serif'>Hours post infection</text>
<text x="254.5" y="223.2" font-size="10.2" font-weight="bold" text-anchor="middle" fill="#000" font-family='"Liberation Sans", sans-serif'>hVIC/11</text>
<text transform="translate(140 291.2) rotate(-90)" font-size="8.6" font-weight="bold" text-anchor="middle" font-family='"Liberation Sans", sans-serif'>Viral Titer (TCID<tspan font-size="6.2" dy="2.2">50</tspan><tspan dy="-2.2">/mL)</tspan></text>
<line x1="196.92" y1="277.5" x2="196.92" y2="287.5" stroke="#8a8a8a" stroke-width="0.9"/>
<line x1="194.02" y1="277.5" x2="199.82" y2="277.5" stroke="#333" stroke-width="0.9"/>
<line x1="194.02" y1="287.5" x2="199.82" y2="287.5" stroke="#333" stroke-width="0.9"/>
<line x1="196.92" y1="286" x2="196.92" y2="294.7" stroke="#8a8a8a" stroke-width="0.9"/>
<line x1="194.02" y1="286" x2="199.82" y2="286" stroke="#333" stroke-width="0.9"/>
<line x1="194.02" y1="294.7" x2="199.82" y2="294.7" stroke="#333" stroke-width="0.9"/>
<line x1="225.54" y1="255.3" x2="225.54" y2="263" stroke="#8a8a8a" stroke-width="0.9"/>
<line x1="222.64" y1="255.3" x2="228.44" y2="255.3" stroke="#333" stroke-width="0.9"/>
<line x1="222.64" y1="263" x2="228.44" y2="263" stroke="#333" stroke-width="0.9"/>
<line x1="225.54" y1="272" x2="225.54" y2="288.7" stroke="#8a8a8a" stroke-width="0.9"/>
<line x1="222.64" y1="272" x2="228.44" y2="272" stroke="#333" stroke-width="0.9"/>
<line x1="222.64" y1="288.7" x2="228.44" y2="288.7" stroke="#333" stroke-width="0.9"/>
<line x1="225.54" y1="297.6" x2="225.54" y2="308.3" stroke="#8a8a8a" stroke-width="0.9"/>
<line x1="222.64" y1="297.6" x2="228.44" y2="297.6" stroke="#333" stroke-width="0.9"/>
<line x1="222.64" y1="308.3" x2="228.44" y2="308.3" stroke="#333" stroke-width="0.9"/>
<line x1="282.78" y1="253.5" x2="282.78" y2="279.3" stroke="#8a8a8a" stroke-width="0.9"/>
<line x1="279.88" y1="253.5" x2="285.68" y2="253.5" stroke="#333" stroke-width="0.9"/>
<line x1="279.88" y1="279.3" x2="285.68" y2="279.3" stroke="#333" stroke-width="0.9"/>
<line x1="282.78" y1="295.4" x2="282.78" y2="319.5" stroke="#8a8a8a" stroke-width="0.9"/>
<line x1="279.88" y1="295.4" x2="285.68" y2="295.4" stroke="#333" stroke-width="0.9"/>
<line x1="279.88" y1="319.5" x2="285.68" y2="319.5" stroke="#333" stroke-width="0.9"/>
<line x1="340.02" y1="259.3" x2="340.02" y2="268.3" stroke="#8a8a8a" stroke-width="0.9"/>
<line x1="337.12" y1="259.3" x2="342.92" y2="259.3" stroke="#333" stroke-width="0.9"/>
<line x1="337.12" y1="268.3" x2="342.92" y2="268.3" stroke="#333" stroke-width="0.9"/>
<line x1="340.02" y1="317.6" x2="340.02" y2="325" stroke="#8a8a8a" stroke-width="0.9"/>
<line x1="337.12" y1="317.6" x2="342.92" y2="317.6" stroke="#333" stroke-width="0.9"/>
<line x1="337.12" y1="325" x2="342.92" y2="325" stroke="#333" stroke-width="0.9"/>
<polyline points="168.3,329.6 196.92,282.7 225.54,264.1 282.78,245.9 340.02,241.9" fill="none" stroke="#333" stroke-width="0.85"/>
<polyline points="168.3,329.6 196.92,330 225.54,330 282.78,330 340.02,330" fill="none" stroke="#5060f0" stroke-width="0.85"/>
<polyline points="168.3,329.4 196.92,316.9 225.54,276.6 282.78,258.8 340.02,262.8" fill="none" stroke="#222" stroke-width="0.85"/>
<polyline points="168.3,330.6 196.92,322.8 225.54,302.6 282.78,300.4 340.02,321.2" fill="none" stroke="#f2a64a" stroke-width="0.85"/>
<polyline points="168.3,329.8 196.92,290.1 225.54,259.1 282.78,241 340.02,247.8" fill="none" stroke="#e84a5c" stroke-width="0.85"/>
<circle cx="168.3" cy="329.6" r="2.75" fill="none" stroke="#222" stroke-width="0.6"/>
<circle cx="196.92" cy="282.7" r="2.75" fill="none" stroke="#222" stroke-width="0.6"/>
<circle cx="225.54" cy="264.1" r="2.75" fill="none" stroke="#222" stroke-width="0.6"/>
<circle cx="282.78" cy="245.9" r="2.75" fill="none" stroke="#222" stroke-width="0.6"/>
<circle cx="340.02" cy="241.9" r="2.75" fill="none" stroke="#222" stroke-width="0.6"/>
<circle cx="168.3" cy="329.6" r="2.75" fill="#3553f0" stroke="#222" stroke-width="0.6"/>
<circle cx="196.92" cy="330" r="2.75" fill="#3553f0" stroke="#222" stroke-width="0.6"/>
<circle cx="225.54" cy="330" r="2.75" fill="#3553f0" stroke="#222" stroke-width="0.6"/>
<circle cx="282.78" cy="330" r="2.75" fill="#3553f0" stroke="#222" stroke-width="0.6"/>
<circle cx="340.02" cy="330" r="2.75" fill="#3553f0" stroke="#222" stroke-width="0.6"/>
<circle cx="168.3" cy="329.4" r="2.75" fill="#111" stroke="#222" stroke-width="0.6"/>
<circle cx="196.92" cy="316.9" r="2.75" fill="#111" stroke="#222" stroke-width="0.6"/>
<circle cx="225.54" cy="276.6" r="2.75" fill="#111" stroke="#222" stroke-width="0.6"/>
<circle cx="282.78" cy="258.8" r="2.75" fill="#111" stroke="#222" stroke-width="0.6"/>
<circle cx="340.02" cy="262.8" r="2.75" fill="#111" stroke="#222" stroke-width="0.6"/>
<circle cx="168.3" cy="330.6" r="2.75" fill="#f19a2a" stroke="#222" stroke-width="0.6"/>
<circle cx="196.92" cy="322.8" r="2.75" fill="#f19a2a" stroke="#222" stroke-width="0.6"/>
<circle cx="225.54" cy="302.6" r="2.75" fill="#f19a2a" stroke="#222" stroke-width="0.6"/>
<circle cx="282.78" cy="300.4" r="2.75" fill="#f19a2a" stroke="#222" stroke-width="0.6"/>
<circle cx="340.02" cy="321.2" r="2.75" fill="#f19a2a" stroke="#222" stroke-width="0.6"/>
<circle cx="168.3" cy="329.8" r="2.75" fill="#dc1a32" stroke="#222" stroke-width="0.6"/>
<circle cx="196.92" cy="290.1" r="2.75" fill="#dc1a32" stroke="#222" stroke-width="0.6"/>
<circle cx="225.54" cy="259.1" r="2.75" fill="#dc1a32" stroke="#222" stroke-width="0.6"/>
<circle cx="282.78" cy="241" r="2.75" fill="#dc1a32" stroke="#222" stroke-width="0.6"/>
<circle cx="340.02" cy="247.8" r="2.75" fill="#dc1a32" stroke="#222" stroke-width="0.6"/>
<text x="360.8" y="222" font-size="11.5" font-weight="bold" text-anchor="start" fill="#000" font-family='"Liberation Sans", sans-serif'>e</text>
<rect x="400.4" y="329.82" width="173.28" height="18.48" fill="#b6b6b6" stroke="none" stroke-width="1"/>
<line x1="400.4" y1="329.82" x2="573.68" y2="329.82" stroke="#222" stroke-width="1.1" stroke-dasharray="0.9 0.9"/>
<line x1="400.4" y1="236.9" x2="400.4" y2="352.3" stroke="#000" stroke-width="1.3"/>
<line x1="399.8" y1="348.3" x2="574.28" y2="348.3" stroke="#000" stroke-width="1.3"/>
<line x1="395.6" y1="348.3" x2="400.4" y2="348.3" stroke="#000" stroke-width="1.2"/>
<text x="394" y="351.3" font-size="8.4" font-weight="bold" text-anchor="end" font-family='"Liberation Sans", sans-serif'>10<tspan font-size="5.71" dy="-3.19">0</tspan></text>
<line x1="395.6" y1="329.82" x2="400.4" y2="329.82" stroke="#000" stroke-width="1.2"/>
<text x="394" y="332.82" font-size="8.4" font-weight="bold" text-anchor="end" font-family='"Liberation Sans", sans-serif'>10<tspan font-size="5.71" dy="-3.19">1</tspan></text>
<line x1="395.6" y1="311.33" x2="400.4" y2="311.33" stroke="#000" stroke-width="1.2"/>
<text x="394" y="314.33" font-size="8.4" font-weight="bold" text-anchor="end" font-family='"Liberation Sans", sans-serif'>10<tspan font-size="5.71" dy="-3.19">2</tspan></text>
<line x1="395.6" y1="292.85" x2="400.4" y2="292.85" stroke="#000" stroke-width="1.2"/>
<text x="394" y="295.85" font-size="8.4" font-weight="bold" text-anchor="end" font-family='"Liberation Sans", sans-serif'>10<tspan font-size="5.71" dy="-3.19">3</tspan></text>
<line x1="395.6" y1="274.37" x2="400.4" y2="274.37" stroke="#000" stroke-width="1.2"/>
<text x="394" y="277.37" font-size="8.4" font-weight="bold" text-anchor="end" font-family='"Liberation Sans", sans-serif'>10<tspan font-size="5.71" dy="-3.19">4</tspan></text>
<line x1="395.6" y1="255.88" x2="400.4" y2="255.88" stroke="#000" stroke-width="1.2"/>
<text x="394" y="258.88" font-size="8.4" font-weight="bold" text-anchor="end" font-family='"Liberation Sans", sans-serif'>10<tspan font-size="5.71" dy="-3.19">5</tspan></text>
<line x1="395.6" y1="237.4" x2="400.4" y2="237.4" stroke="#000" stroke-width="1.2"/>
<text x="394" y="240.4" font-size="8.4" font-weight="bold" text-anchor="end" font-family='"Liberation Sans", sans-serif'>10<tspan font-size="5.71" dy="-3.19">6</tspan></text>
<line x1="400.4" y1="348.3" x2="400.4" y2="352.3" stroke="#000" stroke-width="1.2"/>
<text x="400.4" y="362.6" font-size="8.4" font-weight="bold" text-anchor="middle" fill="#000" font-family='"Liberation Sans", sans-serif'>0</text>
<line x1="405.21" y1="348.3" x2="405.21" y2="350.7" stroke="#000" stroke-width="0.9"/>
<line x1="410.03" y1="348.3" x2="410.03" y2="350.7" stroke="#000" stroke-width="0.9"/>
<line x1="414.84" y1="348.3" x2="414.84" y2="350.7" stroke="#000" stroke-width="0.9"/>
<line x1="419.65" y1="348.3" x2="419.65" y2="350.7" stroke="#000" stroke-width="0.9"/>
<line x1="424.47" y1="348.3" x2="424.47" y2="350.7" stroke="#000" stroke-width="0.9"/>
<line x1="429.28" y1="348.3" x2="429.28" y2="352.3" stroke="#000" stroke-width="1.2"/>
<text x="429.28" y="362.6" font-size="8.4" font-weight="bold" text-anchor="middle" fill="#000" font-family='"Liberation Sans", sans-serif'>12</text>
<line x1="434.09" y1="348.3" x2="434.09" y2="350.7" stroke="#000" stroke-width="0.9"/>
<line x1="438.91" y1="348.3" x2="438.91" y2="350.7" stroke="#000" stroke-width="0.9"/>
<line x1="443.72" y1="348.3" x2="443.72" y2="350.7" stroke="#000" stroke-width="0.9"/>
<line x1="448.53" y1="348.3" x2="448.53" y2="350.7" stroke="#000" stroke-width="0.9"/>
<line x1="453.35" y1="348.3" x2="453.35" y2="350.7" stroke="#000" stroke-width="0.9"/>
<line x1="458.16" y1="348.3" x2="458.16" y2="352.3" stroke="#000" stroke-width="1.2"/>
<text x="458.16" y="362.6" font-size="8.4" font-weight="bold" text-anchor="middle" fill="#000" font-family='"Liberation Sans", sans-serif'>24</text>
<line x1="462.97" y1="348.3" x2="462.97" y2="350.7" stroke="#000" stroke-width="0.9"/>
<line x1="467.79" y1="348.3" x2="467.79" y2="350.7" stroke="#000" stroke-width="0.9"/>
<line x1="472.6" y1="348.3" x2="472.6" y2="350.7" stroke="#000" stroke-width="0.9"/>
<line x1="477.41" y1="348.3" x2="477.41" y2="350.7" stroke="#000" stroke-width="0.9"/>
<line x1="482.23" y1="348.3" x2="482.23" y2="350.7" stroke="#000" stroke-width="0.9"/>
<line x1="487.04" y1="348.3" x2="487.04" y2="350.7" stroke="#000" stroke-width="0.9"/>
<line x1="491.85" y1="348.3" x2="491.85" y2="350.7" stroke="#000" stroke-width="0.9"/>
<line x1="496.67" y1="348.3" x2="496.67" y2="350.7" stroke="#000" stroke-width="0.9"/>
<line x1="501.48" y1="348.3" x2="501.48" y2="350.7" stroke="#000" stroke-width="0.9"/>
<line x1="506.29" y1="348.3" x2="506.29" y2="350.7" stroke="#000" stroke-width="0.9"/>
<line x1="511.11" y1="348.3" x2="511.11" y2="350.7" stroke="#000" stroke-width="0.9"/>
<line x1="515.92" y1="348.3" x2="515.92" y2="352.3" stroke="#000" stroke-width="1.2"/>
<text x="515.92" y="362.6" font-size="8.4" font-weight="bold" text-anchor="middle" fill="#000" font-family='"Liberation Sans", sans-serif'>48</text>
<line x1="520.73" y1="348.3" x2="520.73" y2="350.7" stroke="#000" stroke-width="0.9"/>
<line x1="525.55" y1="348.3" x2="525.55" y2="350.7" stroke="#000" stroke-width="0.9"/>
<line x1="530.36" y1="348.3" x2="530.36" y2="350.7" stroke="#000" stroke-width="0.9"/>
<line x1="535.17" y1="348.3" x2="535.17" y2="350.7" stroke="#000" stroke-width="0.9"/>
<line x1="539.99" y1="348.3" x2="539.99" y2="350.7" stroke="#000" stroke-width="0.9"/>
<line x1="544.8" y1="348.3" x2="544.8" y2="350.7" stroke="#000" stroke-width="0.9"/>
<line x1="549.61" y1="348.3" x2="549.61" y2="350.7" stroke="#000" stroke-width="0.9"/>
<line x1="554.43" y1="348.3" x2="554.43" y2="350.7" stroke="#000" stroke-width="0.9"/>
<line x1="559.24" y1="348.3" x2="559.24" y2="350.7" stroke="#000" stroke-width="0.9"/>
<line x1="564.05" y1="348.3" x2="564.05" y2="350.7" stroke="#000" stroke-width="0.9"/>
<line x1="568.87" y1="348.3" x2="568.87" y2="350.7" stroke="#000" stroke-width="0.9"/>
<line x1="573.68" y1="348.3" x2="573.68" y2="352.3" stroke="#000" stroke-width="1.2"/>
<text x="573.68" y="362.6" font-size="8.4" font-weight="bold" text-anchor="middle" fill="#000" font-family='"Liberation Sans", sans-serif'>72</text>
<text x="486.54" y="375.8" font-size="9" font-weight="bold" text-anchor="middle" fill="#000" font-family='"Liberation Sans", sans-serif'>Hours post infection</text>
<text x="487.2" y="223.2" font-size="10.4" font-weight="bold" text-anchor="middle" fill="#000" font-family='"Liberation Sans", sans-serif'>sOH/04</text>
<text transform="translate(372.4 292.7) rotate(-90)" font-size="9" font-weight="bold" text-anchor="middle" font-family='"Liberation Sans", sans-serif'>Viral Titer (TCID<tspan font-size="6.2" dy="2.2">50</tspan><tspan dy="-2.2">eq/mL)</tspan></text>
<line x1="429.28" y1="282.6" x2="429.28" y2="290.5" stroke="#8a8a8a" stroke-width="0.9"/>
<line x1="426.38" y1="282.6" x2="432.18" y2="282.6" stroke="#333" stroke-width="0.9"/>
<line x1="426.38" y1="290.5" x2="432.18" y2="290.5" stroke="#333" stroke-width="0.9"/>
<line x1="429.28" y1="287" x2="429.28" y2="295.3" stroke="#8a8a8a" stroke-width="0.9"/>
<line x1="426.38" y1="287" x2="432.18" y2="287" stroke="#333" stroke-width="0.9"/>
<line x1="426.38" y1="295.3" x2="432.18" y2="295.3" stroke="#333" stroke-width="0.9"/>
<line x1="429.28" y1="318" x2="429.28" y2="326.2" stroke="#8a8a8a" stroke-width="0.9"/>
<line x1="426.38" y1="318" x2="432.18" y2="318" stroke="#333" stroke-width="0.9"/>
<line x1="426.38" y1="326.2" x2="432.18" y2="326.2" stroke="#333" stroke-width="0.9"/>
<line x1="458.16" y1="274.5" x2="458.16" y2="293.2" stroke="#8a8a8a" stroke-width="0.9"/>
<line x1="455.26" y1="274.5" x2="461.06" y2="274.5" stroke="#333" stroke-width="0.9"/>
<line x1="455.26" y1="293.2" x2="461.06" y2="293.2" stroke="#333" stroke-width="0.9"/>
<line x1="458.16" y1="258" x2="458.16" y2="264.5" stroke="#8a8a8a" stroke-width="0.9"/>
<line x1="455.26" y1="258" x2="461.06" y2="258" stroke="#333" stroke-width="0.9"/>
<line x1="455.26" y1="264.5" x2="461.06" y2="264.5" stroke="#333" stroke-width="0.9"/>
<line x1="515.92" y1="260" x2="515.92" y2="274.2" stroke="#8a8a8a" stroke-width="0.9"/>
<line x1="513.02" y1="260" x2="518.82" y2="260" stroke="#333" stroke-width="0.9"/>
<line x1="513.02" y1="274.2" x2="518.82" y2="274.2" stroke="#333" stroke-width="0.9"/>
<line x1="573.68" y1="264" x2="573.68" y2="273.3" stroke="#8a8a8a" stroke-width="0.9"/>
<line x1="570.78" y1="264" x2="576.58" y2="264" stroke="#333" stroke-width="0.9"/>
<line x1="570.78" y1="273.3" x2="576.58" y2="273.3" stroke="#333" stroke-width="0.9"/>
<polyline points="400.4,326.5 429.28,291 458.16,278.4 515.92,263.3 573.68,260.7" fill="none" stroke="#333" stroke-width="0.85"/>
<polyline points="400.4,325.9 429.28,321.7 458.16,330 515.92,330 573.68,330" fill="none" stroke="#5060f0" stroke-width="0.85"/>
<polyline points="400.4,329.5 429.28,316 458.16,304.5 515.92,289.9 573.68,287.7" fill="none" stroke="#222" stroke-width="0.85"/>
<polyline points="400.4,325.1 429.28,286.6 458.16,261.3 515.92,260.5 573.68,265.9" fill="none" stroke="#f2a64a" stroke-width="0.85"/>
<polyline points="400.4,324.7 429.28,307.5 458.16,279 515.92,260.1 573.68,267.2" fill="none" stroke="#e84a5c" stroke-width="0.85"/>
<circle cx="400.4" cy="326.5" r="2.75" fill="none" stroke="#222" stroke-width="0.6"/>
<circle cx="429.28" cy="291" r="2.75" fill="none" stroke="#222" stroke-width="0.6"/>
<circle cx="458.16" cy="278.4" r="2.75" fill="none" stroke="#222" stroke-width="0.6"/>
<circle cx="515.92" cy="263.3" r="2.75" fill="none" stroke="#222" stroke-width="0.6"/>
<circle cx="573.68" cy="260.7" r="2.75" fill="none" stroke="#222" stroke-width="0.6"/>
<circle cx="400.4" cy="325.9" r="2.75" fill="#3553f0" stroke="#222" stroke-width="0.6"/>
<circle cx="429.28" cy="321.7" r="2.75" fill="#3553f0" stroke="#222" stroke-width="0.6"/>
<circle cx="458.16" cy="330" r="2.75" fill="#3553f0" stroke="#222" stroke-width="0.6"/>
<circle cx="515.92" cy="330" r="2.75" fill="#3553f0" stroke="#222" stroke-width="0.6"/>
<circle cx="573.68" cy="330" r="2.75" fill="#3553f0" stroke="#222" stroke-width="0.6"/>
<circle cx="400.4" cy="329.5" r="2.75" fill="#111" stroke="#222" stroke-width="0.6"/>
<circle cx="429.28" cy="316" r="2.75" fill="#111" stroke="#222" stroke-width="0.6"/>
<circle cx="458.16" cy="304.5" r="2.75" fill="#111" stroke="#222" stroke-width="0.6"/>
<circle cx="515.92" cy="289.9" r="2.75" fill="#111" stroke="#222" stroke-width="0.6"/>
<circle cx="573.68" cy="287.7" r="2.75" fill="#111" stroke="#222" stroke-width="0.6"/>
<circle cx="400.4" cy="325.1" r="2.75" fill="#f19a2a" stroke="#222" stroke-width="0.6"/>
<circle cx="429.28" cy="286.6" r="2.75" fill="#f19a2a" stroke="#222" stroke-width="0.6"/>
<circle cx="458.16" cy="261.3" r="2.75" fill="#f19a2a" stroke="#222" stroke-width="0.6"/>
<circle cx="515.92" cy="260.5" r="2.75" fill="#f19a2a" stroke="#222" stroke-width="0.6"/>
<circle cx="573.68" cy="265.9" r="2.75" fill="#f19a2a" stroke="#222" stroke-width="0.6"/>
<circle cx="400.4" cy="324.7" r="2.75" fill="#dc1a32" stroke="#222" stroke-width="0.6"/>
<circle cx="429.28" cy="307.5" r="2.75" fill="#dc1a32" stroke="#222" stroke-width="0.6"/>
<circle cx="458.16" cy="279" r="2.75" fill="#dc1a32" stroke="#222" stroke-width="0.6"/>
<circle cx="515.92" cy="260.1" r="2.75" fill="#dc1a32" stroke="#222" stroke-width="0.6"/>
<circle cx="573.68" cy="267.2" r="2.75" fill="#dc1a32" stroke="#222" stroke-width="0.6"/>
<text x="580" y="333.2" font-size="9" text-anchor="start" fill="#111" font-family='"Liberation Sans", sans-serif'>L.D</text>
<line x1="607.9" y1="238.7" x2="619.6" y2="238.7" stroke="#e84a5c" stroke-width="0.8"/>
<circle cx="613.8" cy="238.7" r="2.75" fill="#dc1a32" stroke="#222" stroke-width="0.6"/>
<text x="626.7" y="242" font-size="9" text-anchor="start" fill="#111" font-family='"Liberation Sans", sans-serif'>Scrambled</text>
<line x1="607.9" y1="258.1" x2="619.6" y2="258.1" stroke="#5060f0" stroke-width="0.8"/>
<circle cx="613.8" cy="258.1" r="2.75" fill="#3553f0" stroke="#222" stroke-width="0.6"/>
<text x="626.7" y="261.4" font-size="9" text-anchor="start" fill="#111" font-family='"Liberation Sans", sans-serif'>shRNA-CMAS</text>
<text x="626.7" y="272.6" font-size="9" text-anchor="start" fill="#111" font-family='"Liberation Sans", sans-serif'>+empty vector</text>
<line x1="607.9" y1="285.9" x2="619.6" y2="285.9" stroke="#333" stroke-width="0.8"/>
<circle cx="613.8" cy="285.9" r="2.75" fill="#111" stroke="#222" stroke-width="0.6"/>
<text x="626.7" y="289.2" font-size="9" text-anchor="start" fill="#111" font-family='"Liberation Sans", sans-serif'>shRNA-CMAS</text>
<text x="626.7" y="300.5" font-size="9" text-anchor="start" fill="#111" font-family='"Liberation Sans", sans-serif'>+ HLA-DR</text>
<line x1="607.9" y1="313.5" x2="619.6" y2="313.5" stroke="#f2a64a" stroke-width="0.8"/>
<circle cx="613.8" cy="313.5" r="2.75" fill="#f19a2a" stroke="#222" stroke-width="0.6"/>
<text x="626.7" y="316.8" font-size="9" text-anchor="start" fill="#111" font-family='"Liberation Sans", sans-serif'>shRNA-CMAS</text>
<text x="626.7" y="327.6" font-size="9" text-anchor="start" fill="#111" font-family='"Liberation Sans", sans-serif'>+SLA-DR</text>
<line x1="607.9" y1="340" x2="619.6" y2="340" stroke="#555" stroke-width="0.8"/>
<circle cx="613.8" cy="340" r="2.75" fill="none" stroke="#222" stroke-width="0.6"/>
<text x="626.7" y="343.3" font-size="9" text-anchor="start" fill="#111" font-family='"Liberation Sans", sans-serif'>shRNA-CMAS</text>
<text x="626.7" y="354.2" font-size="9" text-anchor="start" fill="#111" font-family='"Liberation Sans", sans-serif'>+CMAS</text>
<text x="7.2" y="419.4" font-size="11.5" font-weight="bold" text-anchor="start" fill="#000" font-family='"Liberation Sans", sans-serif'>f</text>
<rect x="46.8" y="536.07" width="204.8" height="18.53" fill="#b7b7b7" stroke="none" stroke-width="1"/>
<rect x="51.3" y="456.1" width="9.6" height="98.5" fill="#f25a6a" stroke="#2a2a2a" stroke-width="0.6"/>
<rect x="65.8" y="461" width="9.5" height="93.6" fill="#355a78" stroke="#2a2a2a" stroke-width="0.6"/>
<rect x="80.3" y="456.6" width="9.5" height="98" fill="#ebd3ac" stroke="#2a2a2a" stroke-width="0.6"/>
<rect x="104" y="536" width="9.5" height="18.6" fill="#f25a6a" stroke="#2a2a2a" stroke-width="0.6"/>
<rect x="118.3" y="533" width="9.6" height="21.6" fill="#355a78" stroke="#2a2a2a" stroke-width="0.6"/>
<rect x="132.7" y="536" width="9.5" height="18.6" fill="#ebd3ac" stroke="#2a2a2a" stroke-width="0.6"/>
<rect x="156.5" y="476.5" width="9.6" height="78.1" fill="#f25a6a" stroke="#2a2a2a" stroke-width="0.6"/>
<rect x="171" y="526.1" width="9.6" height="28.5" fill="#355a78" stroke="#2a2a2a" stroke-width="0.6"/>
<rect x="185.5" y="482.3" width="9.4" height="72.3" fill="#ebd3ac" stroke="#2a2a2a" stroke-width="0.6"/>
<rect x="209.2" y="507.4" width="9.6" height="47.2" fill="#f25a6a" stroke="#2a2a2a" stroke-width="0.6"/>
<rect x="223.6" y="510.4" width="9.6" height="44.2" fill="#355a78" stroke="#2a2a2a" stroke-width="0.6"/>
<rect x="238.1" y="520.6" width="9.6" height="34" fill="#ebd3ac" stroke="#2a2a2a" stroke-width="0.6"/>
<line x1="46.8" y1="536.07" x2="251.6" y2="536.07" stroke="#111" stroke-width="1" stroke-dasharray="1 1"/>
<line x1="56.1" y1="453.8" x2="56.1" y2="460" stroke="#666" stroke-width="0.8"/>
<line x1="53.5" y1="453.8" x2="58.7" y2="453.8" stroke="#333" stroke-width="0.8"/>
<line x1="175.8" y1="522" x2="175.8" y2="530" stroke="#666" stroke-width="0.8"/>
<line x1="173.2" y1="522" x2="178.4" y2="522" stroke="#333" stroke-width="0.8"/>
<line x1="213.9" y1="503.5" x2="213.9" y2="512" stroke="#666" stroke-width="0.8"/>
<line x1="211.3" y1="503.5" x2="216.5" y2="503.5" stroke="#333" stroke-width="0.8"/>
<line x1="228.4" y1="506" x2="228.4" y2="512" stroke="#666" stroke-width="0.8"/>
<line x1="225.8" y1="506" x2="231" y2="506" stroke="#333" stroke-width="0.8"/>
<line x1="242.9" y1="517" x2="242.9" y2="526" stroke="#666" stroke-width="0.8"/>
<line x1="240.3" y1="517" x2="245.5" y2="517" stroke="#333" stroke-width="0.8"/>
<circle cx="55.7" cy="450.1" r="2.8" fill="#e8293f" stroke="#333" stroke-width="0.6"/>
<circle cx="53.6" cy="462.1" r="2.8" fill="#e8293f" stroke="#333" stroke-width="0.6"/>
<circle cx="58.8" cy="462.1" r="2.8" fill="#e8293f" stroke="#333" stroke-width="0.6"/>
<circle cx="67.4" cy="461.6" r="2.8" fill="#2b4a64" stroke="#333" stroke-width="0.6"/>
<circle cx="70.4" cy="460.8" r="2.8" fill="#2b4a64" stroke="#333" stroke-width="0.6"/>
<circle cx="73.5" cy="461.6" r="2.8" fill="#2b4a64" stroke="#333" stroke-width="0.6"/>
<circle cx="81.8" cy="458.4" r="2.8" fill="#dba35c" stroke="#333" stroke-width="0.6"/>
<circle cx="84.2" cy="455.3" r="2.8" fill="#dba35c" stroke="#333" stroke-width="0.6"/>
<circle cx="87.9" cy="456" r="2.8" fill="#dba35c" stroke="#333" stroke-width="0.6"/>
<circle cx="106.3" cy="536" r="2.8" fill="#e8293f" stroke="#333" stroke-width="0.6"/>
<circle cx="108.8" cy="536" r="2.8" fill="#e8293f" stroke="#333" stroke-width="0.6"/>
<circle cx="110.9" cy="536" r="2.8" fill="#e8293f" stroke="#333" stroke-width="0.6"/>
<circle cx="123.2" cy="529.5" r="2.8" fill="#2b4a64" stroke="#333" stroke-width="0.6"/>
<circle cx="120.1" cy="536" r="2.8" fill="#2b4a64" stroke="#333" stroke-width="0.6"/>
<circle cx="125.3" cy="536" r="2.8" fill="#2b4a64" stroke="#333" stroke-width="0.6"/>
<circle cx="134.8" cy="536" r="2.8" fill="#dba35c" stroke="#333" stroke-width="0.6"/>
<circle cx="137.4" cy="536" r="2.8" fill="#dba35c" stroke="#333" stroke-width="0.6"/>
<circle cx="139.4" cy="536" r="2.8" fill="#dba35c" stroke="#333" stroke-width="0.6"/>
<circle cx="161.5" cy="471.6" r="2.8" fill="#e8293f" stroke="#333" stroke-width="0.6"/>
<circle cx="159" cy="478.9" r="2.8" fill="#e8293f" stroke="#333" stroke-width="0.6"/>
<circle cx="163.6" cy="478.9" r="2.8" fill="#e8293f" stroke="#333" stroke-width="0.6"/>
<circle cx="175.3" cy="519.1" r="2.8" fill="#2b4a64" stroke="#333" stroke-width="0.6"/>
<circle cx="173.1" cy="536" r="2.8" fill="#2b4a64" stroke="#333" stroke-width="0.6"/>
<circle cx="177.7" cy="536" r="2.8" fill="#2b4a64" stroke="#333" stroke-width="0.6"/>
<circle cx="190" cy="478.3" r="2.8" fill="#dba35c" stroke="#333" stroke-width="0.6"/>
<circle cx="188.2" cy="483.8" r="2.8" fill="#dba35c" stroke="#333" stroke-width="0.6"/>
<circle cx="192.8" cy="483.8" r="2.8" fill="#dba35c" stroke="#333" stroke-width="0.6"/>
<circle cx="211.5" cy="503.8" r="2.8" fill="#e8293f" stroke="#333" stroke-width="0.6"/>
<circle cx="216.1" cy="504.3" r="2.8" fill="#e8293f" stroke="#333" stroke-width="0.6"/>
<circle cx="213.6" cy="516" r="2.8" fill="#e8293f" stroke="#333" stroke-width="0.6"/>
<circle cx="228.3" cy="503.8" r="2.8" fill="#2b4a64" stroke="#333" stroke-width="0.6"/>
<circle cx="225.9" cy="517.3" r="2.8" fill="#2b4a64" stroke="#333" stroke-width="0.6"/>
<circle cx="230.5" cy="517.3" r="2.8" fill="#2b4a64" stroke="#333" stroke-width="0.6"/>
<circle cx="242.7" cy="515.1" r="2.8" fill="#dba35c" stroke="#333" stroke-width="0.6"/>
<circle cx="242.7" cy="522.8" r="2.8" fill="#dba35c" stroke="#333" stroke-width="0.6"/>
<circle cx="242.7" cy="528.9" r="2.8" fill="#dba35c" stroke="#333" stroke-width="0.6"/>
<line x1="46.8" y1="442.9" x2="46.8" y2="555.2" stroke="#000" stroke-width="1.3"/>
<line x1="46.2" y1="554.6" x2="251.6" y2="554.6" stroke="#000" stroke-width="1.3"/>
<line x1="42.2" y1="554.6" x2="46.8" y2="554.6" stroke="#000" stroke-width="1.2"/>
<text x="40.8" y="557.6" font-size="8.4" font-weight="bold" text-anchor="end" font-family='"Liberation Sans", sans-serif'>10<tspan font-size="5.71" dy="-3.19">0</tspan></text>
<line x1="42.2" y1="536.07" x2="46.8" y2="536.07" stroke="#000" stroke-width="1.2"/>
<text x="40.8" y="539.07" font-size="8.4" font-weight="bold" text-anchor="end" font-family='"Liberation Sans", sans-serif'>10<tspan font-size="5.71" dy="-3.19">1</tspan></text>
<line x1="42.2" y1="517.53" x2="46.8" y2="517.53" stroke="#000" stroke-width="1.2"/>
<text x="40.8" y="520.53" font-size="8.4" font-weight="bold" text-anchor="end" font-family='"Liberation Sans", sans-serif'>10<tspan font-size="5.71" dy="-3.19">2</tspan></text>
<line x1="42.2" y1="499" x2="46.8" y2="499" stroke="#000" stroke-width="1.2"/>
<text x="40.8" y="502" font-size="8.4" font-weight="bold" text-anchor="end" font-family='"Liberation Sans", sans-serif'>10<tspan font-size="5.71" dy="-3.19">3</tspan></text>
<line x1="42.2" y1="480.47" x2="46.8" y2="480.47" stroke="#000" stroke-width="1.2"/>
<text x="40.8" y="483.47" font-size="8.4" font-weight="bold" text-anchor="end" font-family='"Liberation Sans", sans-serif'>10<tspan font-size="5.71" dy="-3.19">4</tspan></text>
<line x1="42.2" y1="461.93" x2="46.8" y2="461.93" stroke="#000" stroke-width="1.2"/>
<text x="40.8" y="464.93" font-size="8.4" font-weight="bold" text-anchor="end" font-family='"Liberation Sans", sans-serif'>10<tspan font-size="5.71" dy="-3.19">5</tspan></text>
<line x1="42.2" y1="443.4" x2="46.8" y2="443.4" stroke="#000" stroke-width="1.2"/>
<text x="40.8" y="446.4" font-size="8.4" font-weight="bold" text-anchor="end" font-family='"Liberation Sans", sans-serif'>10<tspan font-size="5.71" dy="-3.19">6</tspan></text>
<line x1="70.5" y1="554.6" x2="70.5" y2="559" stroke="#000" stroke-width="1.2"/>
<text x="70.5" y="568.9" font-size="8.3" font-weight="bold" text-anchor="middle" fill="#000" font-family='"Liberation Sans", sans-serif'>Scrambled</text>
<line x1="123" y1="554.6" x2="123" y2="559" stroke="#000" stroke-width="1.2"/>
<text x="123" y="568.9" font-size="8.3" font-weight="bold" text-anchor="middle" fill="#000" font-family='"Liberation Sans", sans-serif'>Empty vector</text>
<line x1="175.8" y1="554.6" x2="175.8" y2="559" stroke="#000" stroke-width="1.2"/>
<text x="175.8" y="568.9" font-size="8.3" font-weight="bold" text-anchor="middle" fill="#000" font-family='"Liberation Sans", sans-serif'>HLA-DR</text>
<line x1="228.4" y1="554.6" x2="228.4" y2="559" stroke="#000" stroke-width="1.2"/>
<text x="228.4" y="568.9" font-size="8.3" font-weight="bold" text-anchor="middle" fill="#000" font-family='"Liberation Sans", sans-serif'>SLA-DR</text>
<line x1="98" y1="577" x2="250.3" y2="577" stroke="#000" stroke-width="1.2"/>
<text x="178.1" y="586.7" font-size="8.3" font-weight="bold" text-anchor="middle" fill="#000" font-family='"Liberation Sans", sans-serif'>shRNA-CMAS</text>
<line x1="159" y1="463.8" x2="176.6" y2="463.8" stroke="#333" stroke-width="1"/>
<text x="167.8" y="459.2" font-size="6" text-anchor="middle" fill="#222" font-family='"Liberation Sans", sans-serif'>0.0172</text>
<text x="134" y="423.9" font-size="11" font-weight="bold" text-anchor="middle" fill="#000" font-family='"Liberation Sans", sans-serif'>hVIC/11</text>
<text transform="translate(19.4 499) rotate(-90)" font-size="8.9" font-weight="bold" text-anchor="middle" font-family='"Liberation Sans", sans-serif'>Viral Titer (TCID<tspan font-size="6" dy="2.2">50</tspan><tspan dy="-2.2">eq/mL)</tspan></text>
<text x="311.6" y="421" font-size="11.5" font-weight="bold" text-anchor="start" fill="#000" font-family='"Liberation Sans", sans-serif'>g</text>
<rect x="331" y="538.77" width="205" height="15.93" fill="#b7b7b7" stroke="none" stroke-width="1"/>
<rect x="335.7" y="485.5" width="8.9" height="69.2" fill="#f25a6a" stroke="#2a2a2a" stroke-width="0.6"/>
<rect x="350" y="489" width="8.9" height="65.7" fill="#355a78" stroke="#2a2a2a" stroke-width="0.6"/>
<rect x="364.4" y="481.8" width="9" height="72.9" fill="#ebd3ac" stroke="#2a2a2a" stroke-width="0.6"/>
<rect x="388.2" y="537.2" width="8.9" height="17.5" fill="#f25a6a" stroke="#2a2a2a" stroke-width="0.6"/>
<rect x="402.5" y="531.4" width="8.9" height="23.3" fill="#355a78" stroke="#2a2a2a" stroke-width="0.6"/>
<rect x="416.7" y="536" width="9" height="18.7" fill="#ebd3ac" stroke="#2a2a2a" stroke-width="0.6"/>
<rect x="440.6" y="514.5" width="9" height="40.2" fill="#f25a6a" stroke="#2a2a2a" stroke-width="0.6"/>
<rect x="454.9" y="532.3" width="9" height="22.4" fill="#355a78" stroke="#2a2a2a" stroke-width="0.6"/>
<rect x="469.3" y="516.8" width="9.1" height="37.9" fill="#ebd3ac" stroke="#2a2a2a" stroke-width="0.6"/>
<rect x="493.2" y="478.8" width="9.2" height="75.9" fill="#f25a6a" stroke="#2a2a2a" stroke-width="0.6"/>
<rect x="507.5" y="479.4" width="9.1" height="75.3" fill="#355a78" stroke="#2a2a2a" stroke-width="0.6"/>
<rect x="521.6" y="527" width="9.2" height="27.7" fill="#ebd3ac" stroke="#2a2a2a" stroke-width="0.6"/>
<line x1="331" y1="538.77" x2="536" y2="538.77" stroke="#111" stroke-width="1" stroke-dasharray="1 1"/>
<line x1="340.2" y1="483" x2="340.2" y2="490" stroke="#666" stroke-width="0.8"/>
<line x1="337.6" y1="483" x2="342.8" y2="483" stroke="#333" stroke-width="0.8"/>
<line x1="354.5" y1="485" x2="354.5" y2="494" stroke="#666" stroke-width="0.8"/>
<line x1="351.9" y1="485" x2="357.1" y2="485" stroke="#333" stroke-width="0.8"/>
<line x1="407" y1="528" x2="407" y2="537" stroke="#666" stroke-width="0.8"/>
<line x1="404.4" y1="528" x2="409.6" y2="528" stroke="#333" stroke-width="0.8"/>
<line x1="445.1" y1="511" x2="445.1" y2="520" stroke="#666" stroke-width="0.8"/>
<line x1="442.5" y1="511" x2="447.7" y2="511" stroke="#333" stroke-width="0.8"/>
<line x1="459.4" y1="528" x2="459.4" y2="536" stroke="#666" stroke-width="0.8"/>
<line x1="456.8" y1="528" x2="462" y2="528" stroke="#333" stroke-width="0.8"/>
<line x1="474" y1="514" x2="474" y2="520" stroke="#666" stroke-width="0.8"/>
<line x1="471.4" y1="514" x2="476.6" y2="514" stroke="#333" stroke-width="0.8"/>
<line x1="526.2" y1="523" x2="526.2" y2="532" stroke="#666" stroke-width="0.8"/>
<line x1="523.6" y1="523" x2="528.8" y2="523" stroke="#333" stroke-width="0.8"/>
<circle cx="340.1" cy="480" r="2.8" fill="#e8293f" stroke="#333" stroke-width="0.6"/>
<circle cx="337.7" cy="489.8" r="2.8" fill="#e8293f" stroke="#333" stroke-width="0.6"/>
<circle cx="342.3" cy="489.8" r="2.8" fill="#e8293f" stroke="#333" stroke-width="0.6"/>
<circle cx="352.1" cy="485.2" r="2.8" fill="#2b4a64" stroke="#333" stroke-width="0.6"/>
<circle cx="356.1" cy="487.6" r="2.8" fill="#2b4a64" stroke="#333" stroke-width="0.6"/>
<circle cx="353.9" cy="496.8" r="2.8" fill="#2b4a64" stroke="#333" stroke-width="0.6"/>
<circle cx="366.2" cy="478.4" r="2.8" fill="#dba35c" stroke="#333" stroke-width="0.6"/>
<circle cx="370.5" cy="480.6" r="2.8" fill="#dba35c" stroke="#333" stroke-width="0.6"/>
<circle cx="368.3" cy="485.8" r="2.8" fill="#dba35c" stroke="#333" stroke-width="0.6"/>
<circle cx="390.4" cy="538.8" r="2.8" fill="#e8293f" stroke="#333" stroke-width="0.6"/>
<circle cx="392.8" cy="538.8" r="2.8" fill="#e8293f" stroke="#333" stroke-width="0.6"/>
<circle cx="394.4" cy="538.8" r="2.8" fill="#e8293f" stroke="#333" stroke-width="0.6"/>
<circle cx="406.6" cy="526" r="2.8" fill="#2b4a64" stroke="#333" stroke-width="0.6"/>
<circle cx="404.5" cy="538.8" r="2.8" fill="#2b4a64" stroke="#333" stroke-width="0.6"/>
<circle cx="409.1" cy="534.2" r="2.8" fill="#2b4a64" stroke="#333" stroke-width="0.6"/>
<circle cx="420.7" cy="532.1" r="2.8" fill="#dba35c" stroke="#333" stroke-width="0.6"/>
<circle cx="418.9" cy="538.8" r="2.8" fill="#dba35c" stroke="#333" stroke-width="0.6"/>
<circle cx="422.9" cy="538.8" r="2.8" fill="#dba35c" stroke="#333" stroke-width="0.6"/>
<circle cx="445" cy="509.1" r="2.8" fill="#e8293f" stroke="#333" stroke-width="0.6"/>
<circle cx="445" cy="517.4" r="2.8" fill="#e8293f" stroke="#333" stroke-width="0.6"/>
<circle cx="445" cy="525.6" r="2.8" fill="#e8293f" stroke="#333" stroke-width="0.6"/>
<circle cx="459.4" cy="526.6" r="2.8" fill="#2b4a64" stroke="#333" stroke-width="0.6"/>
<circle cx="457.2" cy="538.8" r="2.8" fill="#2b4a64" stroke="#333" stroke-width="0.6"/>
<circle cx="461.8" cy="538.8" r="2.8" fill="#2b4a64" stroke="#333" stroke-width="0.6"/>
<circle cx="471.6" cy="512.8" r="2.8" fill="#dba35c" stroke="#333" stroke-width="0.6"/>
<circle cx="476.2" cy="516.4" r="2.8" fill="#dba35c" stroke="#333" stroke-width="0.6"/>
<circle cx="473.5" cy="523.5" r="2.8" fill="#dba35c" stroke="#333" stroke-width="0.6"/>
<circle cx="495.5" cy="482.1" r="2.8" fill="#e8293f" stroke="#333" stroke-width="0.6"/>
<circle cx="497.7" cy="479" r="2.8" fill="#e8293f" stroke="#333" stroke-width="0.6"/>
<circle cx="500.1" cy="480.6" r="2.8" fill="#e8293f" stroke="#333" stroke-width="0.6"/>
<circle cx="510.3" cy="483.6" r="2.8" fill="#2b4a64" stroke="#333" stroke-width="0.6"/>
<circle cx="512.4" cy="480.6" r="2.8" fill="#2b4a64" stroke="#333" stroke-width="0.6"/>
<circle cx="513.9" cy="482.7" r="2.8" fill="#2b4a64" stroke="#333" stroke-width="0.6"/>
<circle cx="526.2" cy="521" r="2.8" fill="#dba35c" stroke="#333" stroke-width="0.6"/>
<circle cx="523.7" cy="537.3" r="2.8" fill="#dba35c" stroke="#333" stroke-width="0.6"/>
<circle cx="528.3" cy="532.7" r="2.8" fill="#dba35c" stroke="#333" stroke-width="0.6"/>
<line x1="331" y1="442.7" x2="331" y2="555.3" stroke="#000" stroke-width="1.3"/>
<line x1="330.4" y1="554.7" x2="536" y2="554.7" stroke="#000" stroke-width="1.3"/>
<line x1="326.4" y1="554.7" x2="331" y2="554.7" stroke="#000" stroke-width="1.2"/>
<text x="325" y="557.7" font-size="8.4" font-weight="bold" text-anchor="end" font-family='"Liberation Sans", sans-serif'>10<tspan font-size="5.71" dy="-3.19">0</tspan></text>
<line x1="326.4" y1="538.77" x2="331" y2="538.77" stroke="#000" stroke-width="1.2"/>
<text x="325" y="541.77" font-size="8.4" font-weight="bold" text-anchor="end" font-family='"Liberation Sans", sans-serif'>10<tspan font-size="5.71" dy="-3.19">1</tspan></text>
<line x1="326.4" y1="522.84" x2="331" y2="522.84" stroke="#000" stroke-width="1.2"/>
<text x="325" y="525.84" font-size="8.4" font-weight="bold" text-anchor="end" font-family='"Liberation Sans", sans-serif'>10<tspan font-size="5.71" dy="-3.19">2</tspan></text>
<line x1="326.4" y1="506.91" x2="331" y2="506.91" stroke="#000" stroke-width="1.2"/>
<text x="325" y="509.91" font-size="8.4" font-weight="bold" text-anchor="end" font-family='"Liberation Sans", sans-serif'>10<tspan font-size="5.71" dy="-3.19">3</tspan></text>
<line x1="326.4" y1="490.99" x2="331" y2="490.99" stroke="#000" stroke-width="1.2"/>
<text x="325" y="493.99" font-size="8.4" font-weight="bold" text-anchor="end" font-family='"Liberation Sans", sans-serif'>10<tspan font-size="5.71" dy="-3.19">4</tspan></text>
<line x1="326.4" y1="475.06" x2="331" y2="475.06" stroke="#000" stroke-width="1.2"/>
<text x="325" y="478.06" font-size="8.4" font-weight="bold" text-anchor="end" font-family='"Liberation Sans", sans-serif'>10<tspan font-size="5.71" dy="-3.19">5</tspan></text>
<line x1="326.4" y1="459.13" x2="331" y2="459.13" stroke="#000" stroke-width="1.2"/>
<text x="325" y="462.13" font-size="8.4" font-weight="bold" text-anchor="end" font-family='"Liberation Sans", sans-serif'>10<tspan font-size="5.71" dy="-3.19">6</tspan></text>
<line x1="326.4" y1="443.2" x2="331" y2="443.2" stroke="#000" stroke-width="1.2"/>
<text x="325" y="446.2" font-size="8.4" font-weight="bold" text-anchor="end" font-family='"Liberation Sans", sans-serif'>10<tspan font-size="5.71" dy="-3.19">7</tspan></text>
<line x1="354.4" y1="554.7" x2="354.4" y2="559.1" stroke="#000" stroke-width="1.2"/>
<text x="354.4" y="568.9" font-size="8.3" font-weight="bold" text-anchor="middle" fill="#000" font-family='"Liberation Sans", sans-serif'>Scrambled</text>
<line x1="407" y1="554.7" x2="407" y2="559.1" stroke="#000" stroke-width="1.2"/>
<text x="407" y="568.9" font-size="8.3" font-weight="bold" text-anchor="middle" fill="#000" font-family='"Liberation Sans", sans-serif'>Empty vector</text>
<line x1="459.4" y1="554.7" x2="459.4" y2="559.1" stroke="#000" stroke-width="1.2"/>
<text x="459.4" y="568.9" font-size="8.3" font-weight="bold" text-anchor="middle" fill="#000" font-family='"Liberation Sans", sans-serif'>HLA-DR</text>
<line x1="512" y1="554.7" x2="512" y2="559.1" stroke="#000" stroke-width="1.2"/>
<text x="512" y="568.9" font-size="8.3" font-weight="bold" text-anchor="middle" fill="#000" font-family='"Liberation Sans", sans-serif'>SLA-DR</text>
<line x1="380" y1="577" x2="533" y2="577" stroke="#000" stroke-width="1.2"/>
<text x="451.9" y="586.7" font-size="8.3" font-weight="bold" text-anchor="middle" fill="#000" font-family='"Liberation Sans", sans-serif'>shRNA-CMAS</text>
<line x1="339.2" y1="445.3" x2="368.4" y2="445.3" stroke="#333" stroke-width="1"/>
<text x="353.8" y="440.7" font-size="6" text-anchor="middle" fill="#222" font-family='"Liberation Sans", sans-serif'>0.5435</text>
<line x1="339.2" y1="465.1" x2="354.4" y2="465.1" stroke="#333" stroke-width="1"/>
<text x="346.8" y="460.5" font-size="6" text-anchor="middle" fill="#222" font-family='"Liberation Sans", sans-serif'>0.7441</text>
<line x1="445" y1="445.3" x2="474" y2="445.3" stroke="#333" stroke-width="1"/>
<text x="459.5" y="440.7" font-size="6" text-anchor="middle" fill="#222" font-family='"Liberation Sans", sans-serif'>0.9052</text>
<line x1="445" y1="465.1" x2="459.4" y2="465.1" stroke="#333" stroke-width="1"/>
<text x="452.2" y="460.5" font-size="6" text-anchor="middle" fill="#222" font-family='"Liberation Sans", sans-serif'>0.4196</text>
<line x1="497.3" y1="445.3" x2="526.5" y2="445.3" stroke="#333" stroke-width="1"/>
<text x="511.9" y="440.7" font-size="6" text-anchor="middle" fill="#222" font-family='"Liberation Sans", sans-serif'>0.0333</text>
<line x1="497.3" y1="465.1" x2="511.9" y2="465.1" stroke="#333" stroke-width="1"/>
<text x="504.6" y="460.5" font-size="6" text-anchor="middle" fill="#222" font-family='"Liberation Sans", sans-serif'>0.6105</text>
<text x="460.5" y="423.9" font-size="11.3" font-weight="bold" text-anchor="middle" fill="#000" font-family='"Liberation Sans", sans-serif'>sOH/04</text>
<text transform="translate(302.6 500) rotate(-90)" font-size="8.9" font-weight="bold" text-anchor="middle" font-family='"Liberation Sans", sans-serif'>Viral Titer (TCID<tspan font-size="6" dy="2.2">50</tspan><tspan dy="-2.2">eq/mL)</tspan></text>
<circle cx="568.8" cy="452" r="3.1" fill="#e8293f" stroke="#333" stroke-width="0.6"/>
<text x="582" y="455.3" font-size="9" text-anchor="start" fill="#111" font-family='"Liberation Sans", sans-serif'>anti-GFP</text>
<circle cx="568.8" cy="468.05" r="3.1" fill="#2b4a64" stroke="#333" stroke-width="0.6"/>
<text x="582" y="471.35" font-size="9" text-anchor="start" fill="#111" font-family='"Liberation Sans", sans-serif'>HLA-DR ab</text>
<circle cx="568.8" cy="484.1" r="3.1" fill="#dba35c" stroke="#333" stroke-width="0.6"/>
<text x="582" y="487.4" font-size="9" text-anchor="start" fill="#111" font-family='"Liberation Sans", sans-serif'>SLA-DR ab</text>
<text x="14.6" y="638" font-size="11.5" font-weight="bold" text-anchor="start" fill="#000" font-family='"Liberation Sans", sans-serif'>h</text>
<rect x="51.8" y="703.6" width="9.7" height="73.2" fill="#3b8a7c" stroke="#2a2a2a" stroke-width="0.6"/>
<rect x="67" y="707.3" width="9.6" height="69.5" fill="#fb1b0c" stroke="#2a2a2a" stroke-width="0.6"/>
<rect x="91.8" y="763" width="9.8" height="13.8" fill="#3b8a7c" stroke="#2a2a2a" stroke-width="0.6"/>
<rect x="107.1" y="706.2" width="9.5" height="70.6" fill="#fb1b0c" stroke="#2a2a2a" stroke-width="0.6"/>
<rect x="132" y="759.4" width="9.6" height="17.4" fill="#3b8a7c" stroke="#2a2a2a" stroke-width="0.6"/>
<rect x="147.2" y="753" width="9.4" height="23.8" fill="#fb1b0c" stroke="#2a2a2a" stroke-width="0.6"/>
<rect x="172.2" y="766.6" width="9.4" height="10.2" fill="#3b8a7c" stroke="#2a2a2a" stroke-width="0.6"/>
<rect x="187" y="714.8" width="9.6" height="62" fill="#fb1b0c" stroke="#2a2a2a" stroke-width="0.6"/>
<rect x="212" y="763.8" width="9.6" height="13" fill="#3b8a7c" stroke="#2a2a2a" stroke-width="0.6"/>
<rect x="227.2" y="764.4" width="9.7" height="12.4" fill="#fb1b0c" stroke="#2a2a2a" stroke-width="0.6"/>
<line x1="137" y1="752.8" x2="137" y2="765" stroke="#333" stroke-width="0.8"/>
<line x1="134.6" y1="752.8" x2="139.4" y2="752.8" stroke="#333" stroke-width="0.8"/>
<line x1="152" y1="745.5" x2="152" y2="760" stroke="#333" stroke-width="0.8"/>
<line x1="149.6" y1="745.5" x2="154.4" y2="745.5" stroke="#333" stroke-width="0.8"/>
<line x1="192" y1="706" x2="192" y2="722" stroke="#333" stroke-width="0.8"/>
<line x1="189.6" y1="706" x2="194.4" y2="706" stroke="#333" stroke-width="0.8"/>
<line x1="216.8" y1="758.6" x2="216.8" y2="766" stroke="#333" stroke-width="0.8"/>
<line x1="214.4" y1="758.6" x2="219.2" y2="758.6" stroke="#333" stroke-width="0.8"/>
<line x1="232" y1="760" x2="232" y2="768" stroke="#333" stroke-width="0.8"/>
<line x1="230" y1="760" x2="234" y2="760" stroke="#333" stroke-width="0.8"/>
<circle cx="53.8" cy="703.1" r="2.05" fill="#fff" stroke="#333" stroke-width="0.65"/>
<circle cx="56.7" cy="702.8" r="2.05" fill="#fff" stroke="#333" stroke-width="0.65"/>
<circle cx="59.6" cy="703.1" r="2.05" fill="#fff" stroke="#333" stroke-width="0.65"/>
<circle cx="67.8" cy="707.5" r="2.05" fill="#fff" stroke="#333" stroke-width="0.65"/>
<circle cx="71.3" cy="704" r="2.05" fill="#fff" stroke="#333" stroke-width="0.65"/>
<circle cx="74.2" cy="706.9" r="2.05" fill="#fff" stroke="#333" stroke-width="0.65"/>
<circle cx="94" cy="759.5" r="2.05" fill="#fff" stroke="#333" stroke-width="0.65"/>
<circle cx="97" cy="766.5" r="2.05" fill="#fff" stroke="#333" stroke-width="0.65"/>
<circle cx="99.9" cy="762.4" r="2.05" fill="#fff" stroke="#333" stroke-width="0.65"/>
<circle cx="108.6" cy="703.1" r="2.05" fill="#fff" stroke="#333" stroke-width="0.65"/>
<circle cx="111.6" cy="705.5" r="2.05" fill="#fff" stroke="#333" stroke-width="0.65"/>
<circle cx="114.5" cy="704.6" r="2.05" fill="#fff" stroke="#333" stroke-width="0.65"/>
<circle cx="137" cy="753.6" r="2.05" fill="#fff" stroke="#333" stroke-width="0.65"/>
<circle cx="137" cy="765.3" r="2.05" fill="#fff" stroke="#333" stroke-width="0.65"/>
<circle cx="148.6" cy="755.7" r="2.05" fill="#fff" stroke="#333" stroke-width="0.65"/>
<circle cx="152.2" cy="746.9" r="2.05" fill="#fff" stroke="#333" stroke-width="0.65"/>
<circle cx="155.4" cy="754.8" r="2.05" fill="#fff" stroke="#333" stroke-width="0.65"/>
<circle cx="173.5" cy="765.3" r="2.05" fill="#fff" stroke="#333" stroke-width="0.65"/>
<circle cx="177" cy="766.5" r="2.05" fill="#fff" stroke="#333" stroke-width="0.65"/>
<circle cx="179.9" cy="765.3" r="2.05" fill="#fff" stroke="#333" stroke-width="0.65"/>
<circle cx="191.9" cy="708.1" r="2.05" fill="#fff" stroke="#333" stroke-width="0.65"/>
<circle cx="191.9" cy="712.8" r="2.05" fill="#fff" stroke="#333" stroke-width="0.65"/>
<circle cx="191.9" cy="721.5" r="2.05" fill="#fff" stroke="#333" stroke-width="0.65"/>
<circle cx="213.5" cy="760.1" r="2.05" fill="#fff" stroke="#333" stroke-width="0.65"/>
<circle cx="217.3" cy="768.2" r="2.05" fill="#fff" stroke="#333" stroke-width="0.65"/>
<circle cx="220.2" cy="761" r="2.05" fill="#fff" stroke="#333" stroke-width="0.65"/>
<circle cx="229" cy="764.5" r="2.05" fill="#fff" stroke="#333" stroke-width="0.65"/>
<circle cx="231.9" cy="759.5" r="2.05" fill="#fff" stroke="#333" stroke-width="0.65"/>
<circle cx="234.8" cy="763.6" r="2.05" fill="#fff" stroke="#333" stroke-width="0.65"/>
<line x1="46.7" y1="665" x2="46.7" y2="777.4" stroke="#000" stroke-width="1.3"/>
<line x1="46.1" y1="776.8" x2="241.4" y2="776.8" stroke="#444" stroke-width="1.3"/>
<line x1="42.3" y1="776.8" x2="46.7" y2="776.8" stroke="#000" stroke-width="1.2"/>
<text x="40.9" y="779.8" font-size="8.4" font-weight="bold" text-anchor="end" fill="#000" font-family='"Liberation Sans", sans-serif'>0</text>
<line x1="42.3" y1="739.7" x2="46.7" y2="739.7" stroke="#000" stroke-width="1.2"/>
<text x="40.9" y="742.7" font-size="8.4" font-weight="bold" text-anchor="end" fill="#000" font-family='"Liberation Sans", sans-serif'>50</text>
<line x1="42.3" y1="702.6" x2="46.7" y2="702.6" stroke="#000" stroke-width="1.2"/>
<text x="40.9" y="705.6" font-size="8.4" font-weight="bold" text-anchor="end" fill="#000" font-family='"Liberation Sans", sans-serif'>100</text>
<line x1="42.3" y1="665.5" x2="46.7" y2="665.5" stroke="#000" stroke-width="1.2"/>
<text x="40.9" y="668.5" font-size="8.4" font-weight="bold" text-anchor="end" fill="#000" font-family='"Liberation Sans", sans-serif'>150</text>
<line x1="64" y1="776.8" x2="64" y2="781.6" stroke="#000" stroke-width="1.2"/>
<text x="65.9" y="789.4" font-size="8.3" font-weight="bold" text-anchor="end" fill="#000" font-family='"Liberation Sans", sans-serif' transform="rotate(-45 65.9 789.4)">Mock infection</text>
<line x1="104" y1="776.8" x2="104" y2="781.6" stroke="#000" stroke-width="1.2"/>
<text x="105.9" y="789.4" font-size="8.3" font-weight="bold" text-anchor="end" fill="#000" font-family='"Liberation Sans", sans-serif' transform="rotate(-45 105.9 789.4)">Empty vector</text>
<line x1="144.1" y1="776.8" x2="144.1" y2="781.6" stroke="#000" stroke-width="1.2"/>
<text x="146" y="789.4" font-size="8.3" font-weight="bold" text-anchor="end" fill="#000" font-family='"Liberation Sans", sans-serif' transform="rotate(-45 146 789.4)">HLA-DR</text>
<line x1="184.2" y1="776.8" x2="184.2" y2="781.6" stroke="#000" stroke-width="1.2"/>
<text x="186.1" y="789.4" font-size="8.3" font-weight="bold" text-anchor="end" fill="#000" font-family='"Liberation Sans", sans-serif' transform="rotate(-45 186.1 789.4)">SLA-DR</text>
<line x1="224.3" y1="776.8" x2="224.3" y2="781.6" stroke="#000" stroke-width="1.2"/>
<text x="226.2" y="789.4" font-size="8.3" font-weight="bold" text-anchor="end" fill="#000" font-family='"Liberation Sans", sans-serif' transform="rotate(-45 226.2 789.4)">CMAS</text>
<line x1="53" y1="695.6" x2="71.9" y2="695.6" stroke="#9a9a9a" stroke-width="0.9"/>
<text x="62.45" y="690.6" font-size="6" text-anchor="middle" fill="#222" font-family='"Liberation Sans", sans-serif'>>0.9999</text>
<line x1="96.7" y1="695.6" x2="111.5" y2="695.6" stroke="#9a9a9a" stroke-width="0.9"/>
<text x="104.1" y="690.6" font-size="6" text-anchor="middle" fill="#222" font-family='"Liberation Sans", sans-serif'><0.0001</text>
<line x1="111.5" y1="681.9" x2="151.9" y2="681.9" stroke="#333" stroke-width="0.9"/>
<text x="131.7" y="676.9" font-size="6" text-anchor="middle" fill="#222" font-family='"Liberation Sans", sans-serif'><0.0001</text>
<line x1="111.5" y1="668.3" x2="191.8" y2="668.3" stroke="#333" stroke-width="0.9"/>
<text x="151.65" y="663.3" font-size="6" text-anchor="middle" fill="#222" font-family='"Liberation Sans", sans-serif'>0.6518</text>
<line x1="136.5" y1="741.5" x2="151.9" y2="741.5" stroke="#333" stroke-width="0.9"/>
<text x="144.2" y="736.5" font-size="6" text-anchor="middle" fill="#222" font-family='"Liberation Sans", sans-serif'>0.9163</text>
<line x1="177" y1="694.7" x2="191.8" y2="694.7" stroke="#9a9a9a" stroke-width="0.9"/>
<text x="184.4" y="689.7" font-size="6" text-anchor="middle" fill="#222" font-family='"Liberation Sans", sans-serif'><0.0001</text>
<line x1="216.9" y1="741.3" x2="232.2" y2="741.3" stroke="#333" stroke-width="0.9"/>
<text x="224.55" y="736.3" font-size="6" text-anchor="middle" fill="#222" font-family='"Liberation Sans", sans-serif'>>0.9999</text>
<text x="104.4" y="648.1" font-size="10.4" font-weight="bold" text-anchor="start" fill="#000" font-family='"Liberation Sans", sans-serif'>hVIC/11 viability</text>
<text transform="translate(22 721) rotate(-90)" font-size="6" font-weight="bold" text-anchor="middle" font-family='"Liberation Sans", sans-serif'>Cell viability (%)</text>
<text x="309.4" y="638" font-size="11.5" font-weight="bold" text-anchor="start" fill="#000" font-family='"Liberation Sans", sans-serif'>i</text>
<rect x="335.6" y="703.6" width="9.7" height="73.3" fill="#3b8a7c" stroke="#2a2a2a" stroke-width="0.6"/>
<rect x="350.6" y="706.6" width="9.8" height="70.3" fill="#fb1b0c" stroke="#2a2a2a" stroke-width="0.6"/>
<rect x="375.4" y="758.5" width="9.9" height="18.4" fill="#3b8a7c" stroke="#2a2a2a" stroke-width="0.6"/>
<rect x="390.8" y="706.9" width="9.9" height="70" fill="#fb1b0c" stroke="#2a2a2a" stroke-width="0.6"/>
<rect x="415.9" y="757" width="9.9" height="19.9" fill="#3b8a7c" stroke="#2a2a2a" stroke-width="0.6"/>
<rect x="430.9" y="739.6" width="9.8" height="37.3" fill="#fb1b0c" stroke="#2a2a2a" stroke-width="0.6"/>
<rect x="456.2" y="764" width="9.7" height="12.9" fill="#3b8a7c" stroke="#2a2a2a" stroke-width="0.6"/>
<rect x="471" y="765" width="9.9" height="11.9" fill="#fb1b0c" stroke="#2a2a2a" stroke-width="0.6"/>
<rect x="496.2" y="765.9" width="9.8" height="11" fill="#3b8a7c" stroke="#2a2a2a" stroke-width="0.6"/>
<rect x="511.1" y="764.3" width="10" height="12.6" fill="#fb1b0c" stroke="#2a2a2a" stroke-width="0.6"/>
<line x1="420.8" y1="749.9" x2="420.8" y2="764" stroke="#333" stroke-width="0.8"/>
<line x1="417.8" y1="749.9" x2="423.8" y2="749.9" stroke="#333" stroke-width="0.8"/>
<line x1="435.8" y1="733" x2="435.8" y2="746" stroke="#333" stroke-width="0.8"/>
<line x1="433.4" y1="733" x2="438.2" y2="733" stroke="#333" stroke-width="0.8"/>
<circle cx="337.3" cy="703.1" r="2.05" fill="#fff" stroke="#333" stroke-width="0.65"/>
<circle cx="340.2" cy="701.7" r="2.05" fill="#fff" stroke="#333" stroke-width="0.65"/>
<circle cx="343.1" cy="703.1" r="2.05" fill="#fff" stroke="#333" stroke-width="0.65"/>
<circle cx="351.9" cy="706.9" r="2.05" fill="#fff" stroke="#333" stroke-width="0.65"/>
<circle cx="355.7" cy="703.1" r="2.05" fill="#fff" stroke="#333" stroke-width="0.65"/>
<circle cx="358.6" cy="706.9" r="2.05" fill="#fff" stroke="#333" stroke-width="0.65"/>
<circle cx="377.3" cy="757.7" r="2.05" fill="#fff" stroke="#333" stroke-width="0.65"/>
<circle cx="380.2" cy="754.8" r="2.05" fill="#fff" stroke="#333" stroke-width="0.65"/>
<circle cx="384" cy="758.9" r="2.05" fill="#fff" stroke="#333" stroke-width="0.65"/>
<circle cx="391.9" cy="703.7" r="2.05" fill="#fff" stroke="#333" stroke-width="0.65"/>
<circle cx="395.7" cy="710.4" r="2.05" fill="#fff" stroke="#333" stroke-width="0.65"/>
<circle cx="398.6" cy="703.7" r="2.05" fill="#fff" stroke="#333" stroke-width="0.65"/>
<circle cx="417.6" cy="750.7" r="2.05" fill="#fff" stroke="#333" stroke-width="0.65"/>
<circle cx="420.5" cy="764.5" r="2.05" fill="#fff" stroke="#333" stroke-width="0.65"/>
<circle cx="424" cy="753.6" r="2.05" fill="#fff" stroke="#333" stroke-width="0.65"/>
<circle cx="435.1" cy="733.8" r="2.05" fill="#fff" stroke="#333" stroke-width="0.65"/>
<circle cx="435.7" cy="743.1" r="2.05" fill="#fff" stroke="#333" stroke-width="0.65"/>
<circle cx="457.3" cy="760.7" r="2.05" fill="#fff" stroke="#333" stroke-width="0.65"/>
<circle cx="460.8" cy="766.5" r="2.05" fill="#fff" stroke="#333" stroke-width="0.65"/>
<circle cx="463.7" cy="762.1" r="2.05" fill="#fff" stroke="#333" stroke-width="0.65"/>
<circle cx="472.5" cy="760.7" r="2.05" fill="#fff" stroke="#333" stroke-width="0.65"/>
<circle cx="475.4" cy="762.1" r="2.05" fill="#fff" stroke="#333" stroke-width="0.65"/>
<circle cx="478.9" cy="763" r="2.05" fill="#fff" stroke="#333" stroke-width="0.65"/>
<circle cx="497.9" cy="765.3" r="2.05" fill="#fff" stroke="#333" stroke-width="0.65"/>
<circle cx="501.4" cy="764.5" r="2.05" fill="#fff" stroke="#333" stroke-width="0.65"/>
<circle cx="504.6" cy="765.3" r="2.05" fill="#fff" stroke="#333" stroke-width="0.65"/>
<circle cx="513.1" cy="766.5" r="2.05" fill="#fff" stroke="#333" stroke-width="0.65"/>
<circle cx="516" cy="760.1" r="2.05" fill="#fff" stroke="#333" stroke-width="0.65"/>
<circle cx="519.2" cy="765.3" r="2.05" fill="#fff" stroke="#333" stroke-width="0.65"/>
<line x1="330.1" y1="664.4" x2="330.1" y2="777.5" stroke="#000" stroke-width="1.3"/>
<line x1="329.5" y1="776.9" x2="525.7" y2="776.9" stroke="#444" stroke-width="1.3"/>
<line x1="325.7" y1="776.9" x2="330.1" y2="776.9" stroke="#000" stroke-width="1.2"/>
<text x="324.3" y="779.9" font-size="8.4" font-weight="bold" text-anchor="end" fill="#000" font-family='"Liberation Sans", sans-serif'>0</text>
<line x1="325.7" y1="739.57" x2="330.1" y2="739.57" stroke="#000" stroke-width="1.2"/>
<text x="324.3" y="742.57" font-size="8.4" font-weight="bold" text-anchor="end" fill="#000" font-family='"Liberation Sans", sans-serif'>50</text>
<line x1="325.7" y1="702.23" x2="330.1" y2="702.23" stroke="#000" stroke-width="1.2"/>
<text x="324.3" y="705.23" font-size="8.4" font-weight="bold" text-anchor="end" fill="#000" font-family='"Liberation Sans", sans-serif'>100</text>
<line x1="325.7" y1="664.9" x2="330.1" y2="664.9" stroke="#000" stroke-width="1.2"/>
<text x="324.3" y="667.9" font-size="8.4" font-weight="bold" text-anchor="end" fill="#000" font-family='"Liberation Sans", sans-serif'>150</text>
<line x1="348" y1="776.9" x2="348" y2="781.7" stroke="#000" stroke-width="1.2"/>
<text x="349.9" y="789.4" font-size="8.3" font-weight="bold" text-anchor="end" fill="#000" font-family='"Liberation Sans", sans-serif' transform="rotate(-45 349.9 789.4)">Mock infection</text>
<line x1="388.1" y1="776.9" x2="388.1" y2="781.7" stroke="#000" stroke-width="1.2"/>
<text x="390" y="789.4" font-size="8.3" font-weight="bold" text-anchor="end" fill="#000" font-family='"Liberation Sans", sans-serif' transform="rotate(-45 390 789.4)">Empty vector</text>
<line x1="428.3" y1="776.9" x2="428.3" y2="781.7" stroke="#000" stroke-width="1.2"/>
<text x="430.2" y="789.4" font-size="8.3" font-weight="bold" text-anchor="end" fill="#000" font-family='"Liberation Sans", sans-serif' transform="rotate(-45 430.2 789.4)">HLA-DR</text>
<line x1="468.5" y1="776.9" x2="468.5" y2="781.7" stroke="#000" stroke-width="1.2"/>
<text x="470.4" y="789.4" font-size="8.3" font-weight="bold" text-anchor="end" fill="#000" font-family='"Liberation Sans", sans-serif' transform="rotate(-45 470.4 789.4)">SLA-DR</text>
<line x1="508.7" y1="776.9" x2="508.7" y2="781.7" stroke="#000" stroke-width="1.2"/>
<text x="510.6" y="789.4" font-size="8.3" font-weight="bold" text-anchor="end" fill="#000" font-family='"Liberation Sans", sans-serif' transform="rotate(-45 510.6 789.4)">CMAS</text>
<line x1="340" y1="693.4" x2="355.5" y2="693.4" stroke="#9a9a9a" stroke-width="0.9"/>
<text x="347.75" y="688.4" font-size="6" text-anchor="middle" fill="#222" font-family='"Liberation Sans", sans-serif'>0.9963</text>
<line x1="380.3" y1="693.4" x2="395.8" y2="693.4" stroke="#9a9a9a" stroke-width="0.9"/>
<text x="388.05" y="688.4" font-size="6" text-anchor="middle" fill="#222" font-family='"Liberation Sans", sans-serif'><0.0001</text>
<line x1="395.8" y1="676.5" x2="435.8" y2="676.5" stroke="#333" stroke-width="0.9"/>
<text x="415.8" y="671.5" font-size="6" text-anchor="middle" fill="#222" font-family='"Liberation Sans", sans-serif'><0.0001</text>
<line x1="395.8" y1="660.4" x2="476" y2="660.4" stroke="#333" stroke-width="0.9"/>
<text x="435.9" y="655.4" font-size="6" text-anchor="middle" fill="#222" font-family='"Liberation Sans", sans-serif'><0.0001</text>
<line x1="419.7" y1="726.1" x2="435.8" y2="726.1" stroke="#333" stroke-width="0.9"/>
<text x="427.75" y="721.1" font-size="6" text-anchor="middle" fill="#222" font-family='"Liberation Sans", sans-serif'>0.0002</text>
<line x1="460.6" y1="726.1" x2="476" y2="726.1" stroke="#333" stroke-width="0.9"/>
<text x="468.3" y="721.1" font-size="6" text-anchor="middle" fill="#222" font-family='"Liberation Sans", sans-serif'>>0.9999</text>
<line x1="500" y1="726.1" x2="516.5" y2="726.1" stroke="#333" stroke-width="0.9"/>
<text x="508.25" y="721.1" font-size="6" text-anchor="middle" fill="#222" font-family='"Liberation Sans", sans-serif'>>0.9999</text>
<text x="389.3" y="639.4" font-size="10.4" font-weight="bold" text-anchor="start" fill="#000" font-family='"Liberation Sans", sans-serif'>sOH/04 viability</text>
<text transform="translate(303.9 721) rotate(-90)" font-size="8.9" font-weight="bold" text-anchor="middle" font-family='"Liberation Sans", sans-serif'>Cell viability (%)</text>
<rect x="568.6" y="673" width="12.3" height="7.5" fill="#3b8a7c" stroke="#333" stroke-width="0.6"/>
<text x="587.2" y="679.7" font-size="9" text-anchor="start" fill="#111" font-family='"Liberation Sans", sans-serif'>shRNA-scrambled</text>
<rect x="568.6" y="688.6" width="12.3" height="7.5" fill="#fb1b0c" stroke="#333" stroke-width="0.6"/>
<text x="587.2" y="695.4" font-size="9" text-anchor="start" fill="#111" font-family='"Liberation Sans", sans-serif'>shRNA-CMAS</text>
</svg></body></html>
